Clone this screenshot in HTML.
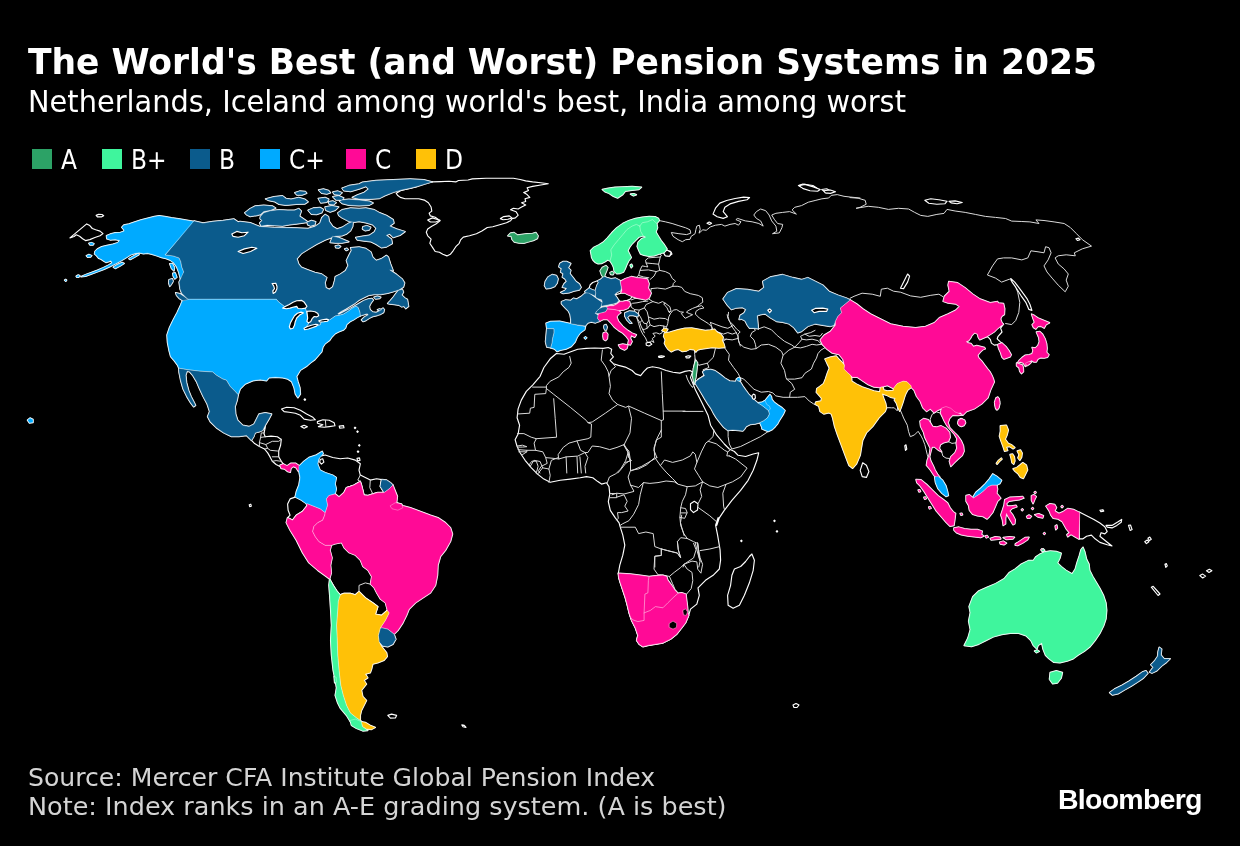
<!DOCTYPE html>
<html><head><meta charset="utf-8"><title>The World's Best (and Worst) Pension Systems in 2025</title>
<style>
html,body{margin:0;padding:0;background:#000;}
body{width:1240px;height:846px;position:relative;overflow:hidden;font-family:"DejaVu Sans","Liberation Sans",sans-serif;color:#fff;}
.title{position:absolute;left:28px;top:40px;font-size:35.6px;font-weight:bold;line-height:44px;white-space:nowrap;transform-origin:0 0;transform:scaleX(0.97);}
.sub{position:absolute;left:28px;top:83.5px;font-size:29.5px;line-height:36px;white-space:nowrap;transform-origin:0 0;transform:scaleX(0.978);}
.legend{position:absolute;left:0;top:140px;height:36px;font-size:24px;line-height:36px;white-space:nowrap;}
.legend i{position:absolute;top:9px;width:20px;height:20px;display:block;}
.legend span{position:absolute;top:1.5px;margin-left:-1px;font-size:26.7px;transform-origin:0 0;transform:scaleX(0.875);}
.src{position:absolute;left:28px;font-size:25.2px;transform-origin:0 0;transform:scaleX(1.012);color:#d4d4d4;white-space:nowrap;line-height:30px;}
.logo{position:absolute;left:1058px;top:784px;font-family:"Liberation Sans","DejaVu Sans",sans-serif;font-weight:bold;font-size:28.5px;letter-spacing:-0.75px;color:#fff;line-height:30px;}
svg{position:absolute;left:0;top:0;}
</style></head><body>
<div class="title">The World's Best (and Worst) Pension Systems in 2025</div>
<div class="sub">Netherlands, Iceland among world's best, India among worst</div>
<div class="legend">
<i style="left:32px;background:#2ca266"></i><span style="left:62px">A</span>
<i style="left:102px;background:#3ff59d"></i><span style="left:132px">B+</span>
<i style="left:190px;background:#0b5b8c"></i><span style="left:220px">B</span>
<i style="left:260px;background:#00aaff"></i><span style="left:290px">C+</span>
<i style="left:346px;background:#ff0a96"></i><span style="left:376px">C</span>
<i style="left:416px;background:#ffc107"></i><span style="left:446px">D</span>
</div>
<div class="src" style="top:763px;transform:scaleX(0.998)">Source: Mercer CFA Institute Global Pension Index</div>
<div class="src" style="top:792px">Note: Index ranks in an A-E grading system. (A is best)</div>
<div class="logo">Bloomberg</div>
<svg width="1240" height="846" viewBox="0 0 1240 846">
<g stroke="#fff" stroke-width="1.15" stroke-linejoin="round" stroke-linecap="round" fill="none">
<path fill="#000000" d="M556.4,353.5L564,354.3L570.8,351.8L577.7,349.2L586.2,348.4L594.7,348L603.2,348.4L608.3,347.5L611.7,349.2L610.8,353.5L613.4,356.9L610,360.3L613.4,363.7L618.5,365.4L625.3,367.1L632.1,370.5L635.5,373.9L640.6,375.6L644,371.4L647.4,368L652.5,366.8L659.3,368L666.1,370.5L673,372.2L679.8,373.1L684.9,371.4L690,370.5L692.5,371.9L690.5,377.6L693,383.8L695.5,390.1L701.8,402.6L708,415.2L710.6,425.2L716.8,435.2L724.3,444L729.3,449L734.4,451.5L738.1,455.3L745.6,456.5L753.2,454L758.7,452.8L756.9,460.3L753.2,470.3L748.1,480.3L740.6,490.4L731.9,500.4L724.3,510.4L719.3,517.9L716.8,525.4L718.1,517.6L715.6,525.1L717.6,535.2L719.3,545.2L720.1,550.2L720.6,560.2L719.3,569L713.1,575.3L705.5,580.3L698,587.8L699.3,595.3L696.8,604.1L690.5,609.1L688.7,615.4L685.5,622.9L681.7,627.9L676.7,634.2L670.5,639.2L662.9,642.9L655.4,644.2L647.9,645.4L642.9,646.7L639.1,644.2L636.6,640.4L637.9,635.4L635.4,627.9L631.6,620.4L629.1,612.9L627.3,605.3L625.3,597.8L622.8,590.3L620.3,582.8L618.8,577.8L618.3,573.3L619.8,565.2L622.8,555.2L624.8,545.2L622.8,535.2L619.8,525.6L619.1,522.9L615.3,517.9L610.3,510.4L608.3,501.6L609.8,494.1L609,486.6L606.5,482.8L601.5,484.1L597.8,481.6L592.8,477.8L586.5,476.6L580.2,477.8L570.2,479.1L560.2,480.3L550.2,482.3L543.9,479.1L537.6,474.1L531.4,467.8L525.1,460.3L520.1,452.8L517.1,446.5L515.1,439.7L518.1,434L519.6,425.2L517.1,417.7L518.1,408.9L521.3,400.1L526.3,391.4L532.6,385.1L540.1,376.3L543.9,367.5L550.2,358.8Z"/>
<path stroke="#dadada" stroke-width="1" d="M897.7,406.9L897.2,410.8L894.3,407.8L891.4,407.8L889,407.7L886.6,407.8"/>
<path stroke="#dadada" stroke-width="1" d="M637,276.7L638.7,275.5L639.9,270.4L642.1,265.9L645.5,266.5L647.8,267L646.1,263L645.5,260.2L648.4,257.9L654,257.4L660.3,257L661.4,255.1L659.1,253.4"/>
<path stroke="#dadada" stroke-width="1" d="M646.1,263L652.9,263.6L658.6,264.2M660.3,257L658.6,264.2L659.7,270.4L656.3,271.6M640.4,270.4L648.4,269.9L656.3,271.6L654,276.1L650.1,279.5M638.7,275.5L643.8,277L648.9,277.8"/>
<path stroke="#dadada" stroke-width="1" d="M659.7,270.4L665.4,271.6L669.9,273.8L672.2,278.4L675.6,281.2L673.3,283.5L672.8,286.3L665.4,289.1L657.4,288L651.2,288.6M672.8,286.3L677.9,286.3L681.8,287.4L684.7,291.4L690.3,293.7L698.3,295.4L702.3,297.7L702.8,302.2L699.4,304.5L697.1,306.7"/>
<path stroke="#dadada" stroke-width="1" d="M697.1,306.7L701.7,305.6L704,307.9L699.4,309L696,311.3L695.4,314.1L699.4,318.1L704,320.9L708.5,323.7L711.9,327.1L713,329.4"/>
<path stroke="#dadada" stroke-width="1" d="M697.1,306.7L692.6,308.4L688.1,310.7L686.4,312.2L689.2,313.5L692.6,314.7L689.2,316.4L685.2,318.3L683,315.8L681.3,313.5L683.5,312.2L680.1,311.8L676.7,309.6L673.3,310.1L670.5,313.5L668.8,316.9L668.2,320.3L667.7,323.7L666.5,327.1"/>
<path stroke="#dadada" stroke-width="1" d="M651.2,288.6L650.6,293.1L650.1,295.4L648.4,298.8L652.9,301.6L658.6,303.3L662.5,301.6L665.4,303.3L669.9,306.7L671.1,311.3L668.8,311.8L670.5,313.5M665.4,303.3L663.7,303.9L667.1,307.9L668.8,311.8"/>
<path stroke="#dadada" stroke-width="1" d="M652.9,301.6L646.1,304.5L644.4,307.9L647.2,311.8L648.4,316.9L654,319.2L659.7,318.1L665.4,318.6L668.2,320.3"/>
<path stroke="#dadada" stroke-width="1" d="M631.3,299.9L637,297.7L642.7,297.1L648.4,298.8M647.8,301.1L642.7,301.6L637,302.8L632.5,303.3L630.8,304.5L631.3,307.3L634.7,309.6L639.3,310.1L644.4,307.9"/>
<path stroke="#dadada" stroke-width="1" d="M639.3,310.1L638.2,313.5L640.4,316.9L642.1,320.3L643.8,323.2L646.7,323.7L648.9,320.3L648.4,316.9M648.9,320.3L650.1,324.9L654,326.6L659.7,325.4L663.7,326L666.5,327.1"/>
<path stroke="#dadada" stroke-width="1" d="M634.7,309.6L634.2,313.5L637,318.1L639.9,322.6L642.1,320.3M639.9,322.6L641,326L642.7,329.4L644.4,332.8M646.7,323.7L647.2,328.3L644.4,329.4L642.7,329.4M647.2,328.3L650.1,324.9"/>
<path stroke="#dadada" stroke-width="1" d="M637,318.1L638.7,323.7L640.4,329.4L642.7,334L645.5,337.9L647.2,341.9L649.5,344.2L651.2,340.8L654,342.5L652.3,338.5L655.2,336.2L652.9,333.4L656.3,332.8L659.7,334L662,332.8L663.7,329.4L663.7,326"/>
<path fill="#000000" d="M646.1,343L649.5,342.1L651.8,344.2L648.9,346L646.3,345.3Z"/>
<path fill="#000000" d="M663.7,252.8L666.5,250.6L670.5,251.4L672,254L668.8,256.2L665.4,255.7Z"/>
<path stroke="#dadada" stroke-width="1" d="M727.2,314.7L727.8,318.1L730.1,322.6L732.3,327.1L735.7,331.7L738,336.2L738.6,340.8L740.3,346"/>
<path fill="#000000" d="M396.2,193.3L401,190.5L409.2,188.5L417.4,186.4L418.8,184.3L425.6,183L432.5,181.9L440.7,181.6L449,181.3L455.8,181.9L458.5,180.5L468.1,180L472.3,178.9L486,178.3L499.7,178.2L513.4,178.3L520.2,179.5L525.7,180.9L532.6,181.9L540.8,182.7L548.3,183.7L540.8,185L532.6,186.4L527.1,187.8L528.5,190.5L523.7,192.6L527.1,194.6L529.8,197.4L525,198.7L525.7,201.5L521.6,202.8L525.7,204.9L521.6,207L518.2,209L513.4,208.3L510.6,209.7L516.1,211.8L518.2,215.2L515.4,217.9L512,218.6L510.6,220.7L506.5,222.7L499.7,224.8L492.8,226.8L487.3,227.5L481.9,231L476.4,233.7L469.5,235.8L463.3,237.1L460.6,239.9L459.2,243.3L455.8,246.7L453.1,250.8L450.3,254.3L446.9,255.9L442.8,254.3L439.4,252.2L435.2,251.5L432.5,247.4L429.8,243.3L431.1,239.2L427.7,235.8L426.3,232.3L427.7,228.9L431.8,226.2L435.9,224.1L440,220.7L435.2,217.2L430.4,215.9L429.1,213.1L431.8,211.1L431.1,207L428.4,202.8L424.3,200.1L418.8,198.7L411.9,198.7L405.1,198.7L400.3,197.4L397.5,195.3Z"/>
<path fill="#000000" d="M427.7,220L432.5,217.9L436.6,219.3L440,220.3L435.9,222L430.4,222Z"/>
<path fill="#000000" d="M500.4,218.6L503.8,216.6L509.3,215.9L512,217.9L507.9,219.3L503.1,219.7Z"/>
<path stroke="#dadada" stroke-width="1" d="M728.5,312.3L728.1,316.6L729.3,321L733.6,325.4L736.5,329L740.2,331.9L738,334.1L738,338.4L739.4,343.5L743.8,347.2L751.1,349.3L756.2,348.6L755.4,344.3L754,339.9L750.3,336.3L751.8,332.6L755.4,330.4L754,328.3"/>
<path stroke="#dadada" stroke-width="1" d="M710.4,322.4L716.2,324.6L722,326.8L727.8,328.3L733.6,325.4M711.8,330.4L717.6,331.9L723.4,334.1L727.8,332.6L732.2,334.1L736.5,332.6M717.6,331.9L719.1,336.3L723.4,339.2L726.3,339.2M724.2,347.2L722.7,341.3L726.3,339.2L732.2,339.9L738,338.4"/>
<path stroke="#dadada" stroke-width="1" d="M710.4,322.4L711.8,326.8L711.8,330.4L714,331.9"/>
<path stroke="#dadada" stroke-width="1" d="M694.4,349.3L694.7,354.4L695.1,358.8L694.4,363.2L693.2,369"/>
<path stroke="#dadada" stroke-width="1" d="M715.4,348.6L713.3,357.3L707.4,363.2L698.7,365.3L696.5,362.4L695.1,358.8M696.5,362.4L696.1,367.5M707.4,363.2L708.9,367.5L703.1,369.7L704.5,374.8L700.2,377.7L697.3,379.4"/>
<path stroke="#dadada" stroke-width="1" d="M724.2,347.2L729.3,354.4L728.5,360.2L733.6,367.5L738,373.3L740.2,377.7M738,377.7L740.2,377.7L741.2,380.6L739.4,381.8"/>
<path stroke="#dadada" stroke-width="1" d="M740.2,377.7L743.8,379.1L748.2,383.5L754,389.3L761.2,392.2L768.5,391.5L772.9,393L775.8,395.9L783.1,397.3L789.6,397.3L797.6,397.3L804.9,396.6L809.2,401L813.6,403.9L816.5,405.3"/>
<path stroke="#dadada" stroke-width="1" d="M756.2,348.6L761.2,345L768.5,344.3L775.8,347.2L781.6,351.5L783.1,355.2L780.9,363.2L784.5,370.4L786,377.7L786.7,379.1L791.8,383.5L794.7,389.3L790.3,392.2L789.6,397.3"/>
<path stroke="#dadada" stroke-width="1" d="M783.1,355.2L788.9,350.1L794.7,347.2L800.5,347.9L806.3,346.4L812.1,344.3L816.5,345L821.6,344.3L825.9,347.2L820.9,350.1L817.9,353.7L816.5,358.1L813.6,363.2L811.4,369L804.9,373.3L802,377.7L794.7,379.1L786.7,379.1"/>
<path stroke="#dadada" stroke-width="1" d="M758.3,329L764.1,326.8L771.4,329.7L777.2,335.5L784.5,341.3L791.8,345L794.7,347.2M758.3,329L757.2,322.4L756.9,315.2"/>
<path stroke="#dadada" stroke-width="1" d="M794.7,347.2L799,342.8L802,339.2L800.5,336.3L804.9,334.1L810.7,332.6L815,330.4M802,339.2L806.3,339.9L812.1,339.2L817.9,340.6L821.6,344.3M804.9,334.1L809.2,336.3L815,335.5L820.1,336.3L822.3,333.4"/>
<path stroke="#dadada" stroke-width="1" d="M728.1,430.7L728.1,436.5L729.3,444L731.9,449L740.6,446.5L750.7,441.5L760.7,436.5L768.2,431.5"/>
<path stroke="#dadada" stroke-width="1" d="M692.5,371.9L695.9,373.9L694.2,384.1L692.5,387.5L690,384.1L687.4,379L686.2,375.3"/>
<path stroke="#dadada" stroke-width="1" d="M683,411.4L703,411.4"/>
<path stroke="#dadada" stroke-width="1" d="M900.3,410.2L902.3,414.7L903.6,418L907.3,425.2L908.5,431.3L910.3,436.7L914.5,434.9L918.1,431.3L921.2,436.1L923,439.8L924.8,444.6L926,449.4L927.2,454.3L928.4,457.9"/>
<path stroke="#dadada" stroke-width="1" d="M941.7,451.9L942.9,456.1L946,458.1L949.4,458.5M948.4,441.6L952,443.4L956.2,442.8M930.8,423.4L930.2,419.2L932.1,414.4L936.3,411.9L940.5,413.1"/>
<path fill="#000000" d="M798.4,185.5L802.9,184L812.9,185.5L816.7,188L810.4,189L802.9,188ZM821.7,189.5L826.7,188.8L831.7,191.5L826.7,193Z"/>
<path fill="#000000" d="M904.8,445.8L906,444.8L906.8,449L905.5,450.3Z"/>
<path fill="#000000" d="M249.2,504.7L250.8,504.2L251.3,506.2L249.7,506.7Z"/>
<path fill="#000000" d="M793,705L796,703.5L799,705L797,707.5L794,707.5Z"/>
<path stroke="#dadada" stroke-width="1" d="M659.4,220.6L665.3,221.8L672.1,223.5L678.9,225.7L685.7,227.8L690,229.8L690.8,233.2L686.6,234.6L678.9,233.7L671.3,232.5L673,236.3L678.1,239.7L682.3,241.7L685.7,239.7L690,239.3L691.2,236.3L695.1,233.7L695.9,229.5L696.8,226.1L699.4,225.2L700.2,229.5L699,233.2L702.8,229.8L706.2,230.3L710.4,226.9L715.5,225.2L721.5,224.4L724.9,226.1L730,224.4L735.1,223.5L738.5,225.2L741,221.8L735.9,219.6L737.6,218.4L745.3,220.9L752.1,221.8L758.9,223.5L763.2,226.1L760.6,220.9L756.4,218.4L753.8,215L756.4,211.6L760.6,209L765.7,210.7L769.1,215L771.7,220.9L775.9,226.1L776.8,231.2L772.5,233.7L779.3,232.9L781.9,227.8L782.7,224.4L777.6,223.5L774.2,219.2L771.7,215L775.9,213.3L782.7,212.4L789.6,211.6L796.4,214.1L792.1,209.9L794.7,207.3L801.5,205.6L808.3,202.2L815.1,200.5L821.9,198.8L828.7,198L831.2,195.4L837.2,194.6L844,196.3L850.8,197.1L860,198"/>
<path fill="#000000" d="M707,223.2L709.2,222L711.6,223.2L709.6,224.5Z"/>
<path fill="#000000" d="M713,214.1L715.5,208.2L719.8,203.1L726.6,200.5L735.1,198.5L743.6,197.1L749.6,197.5L747,199.7L738.5,201.4L730,203.9L724.9,207.3L723.2,211.6L727.4,216.7L723.2,218.4L717.2,216.7Z"/>
<path fill="#000000" d="M798.9,185.6L804.9,184.4L813.4,186.9L820.2,189.5L817.6,191.2L810,190.7L803.2,188.6Z"/>
<path fill="#000000" d="M823.6,190.7L830.4,190L835.5,191.7L830.4,193.4L825.3,192.9Z"/>
<path fill="#000000" d="M663.3,252.4L667,249.9L671.3,252.4L669.6,256.3L665.3,255.8Z"/>
<path stroke="#dadada" stroke-width="1" d="M850,197.6L858.1,198.2L865.2,200.3L866.2,204.3L860.1,207.3L856.1,208.3L868.2,206.3L878.3,207.3L888.4,209.4L898.5,208.3L908.6,209L914.7,212.4L920.7,215.4L927.8,216.4L936.9,214.4L944,213.4L947,209.4L955.1,211L965.2,212.4L975.3,214.4L985.4,216.4L995.5,217.4L1005.6,218.5L1011.7,221.1L1021.8,221.5L1029.9,221.9L1039,223.5L1035.9,219.9L1044,220.5L1054.1,221.9L1064.2,223.5L1070.3,227.5L1076.4,233.6L1082.4,239.7L1091.5,246.1L1082.4,248.8L1074.3,252.8L1075.3,255.8L1066.2,254.8L1058.2,255.8L1055.1,257.9L1058.2,263.9L1064.2,269L1068.3,274L1066.2,280.1L1068.3,286.2L1065.2,291.8L1058.2,285.1L1052.1,278.1L1047,272L1044,265.9L1048.1,259.9L1051.1,252.8L1049.1,247.8L1045.6,246.7L1044,252.8L1038,251.8L1030.9,250.8L1027.8,257.9L1021.8,259.9L1011.7,257.9L1003.6,257.9L997.5,258.9L992.5,265.9L987.4,275L995.5,278.1L1001.6,282.1L1009.7,279.1L1014.7,284.1L1017.7,292.2L1019.8,302.3L1018.8,312.4L1015.7,320.5L1011.7,324.6L1005.6,323.5"/>
<path fill="#000000" d="M1010.7,278.5L1014.7,282.1L1020.8,290.2L1026.8,298.3L1029.9,304.3L1031.9,310.4L1028.9,309.4L1025.8,302.3L1020.8,295.3L1015.7,287.2L1012.1,282.1Z"/>
<path fill="#000000" d="M924.8,200.3L930.8,198.8L938.9,199.7L947,201.3L945,203.7L936.9,204.3L928.8,203.3Z"/>
<path fill="#000000" d="M949,201.3L955.1,200.9L962.2,202.5L957.1,203.7L951.1,202.9Z"/>
<path fill="#000000" d="M1075.9,238.7L1078.4,238.1L1080,239.7L1077.4,240.5Z"/>
<path fill="#000000" d="M900.5,288.2L903.6,282.1L907.6,274L909.6,276.1L907.6,282.1L903.6,288.6Z"/>
<path stroke="#dadada" stroke-width="1" d="M850,298.3L854,296.3L862.1,293.2L872.2,294.2L880.3,296.3L881.3,289.2L887.4,288.2L893.5,291.2L900.5,292.2L910.6,295.9L920.7,297.3L930.8,295.3L938.9,294.2L943,296.7"/>
<path stroke="#dadada" stroke-width="1" d="M569.7,356.5L571.2,363.1L569,367.4L563.2,371.8L558.8,376.9L550.1,381.3L546.4,385.6L546.4,388.5L545.7,393.6L534.8,394.3L534.1,407.4L530.4,408.2L529.7,413.2L517.4,414M532.6,387.1L546.4,387.1"/>
<path stroke="#dadada" stroke-width="1" d="M546.4,388.5L553.7,394.3L570.4,407.4L586.4,420.5L587.9,422.7L592.2,422L605.3,413.2L617.7,404.5L612.6,400.2L609,393.6L610.4,386.3L609,376.2L611.1,370.4L615.5,366.7L613.3,363.8"/>
<path stroke="#dadada" stroke-width="1" d="M602.4,350L601.2,360.2L605.3,366L608.2,371.8L609,376.2"/>
<path stroke="#dadada" stroke-width="1" d="M553.7,398.7L555.2,418.3L556.6,437.2L536.3,438.7L534.1,443.1L535.5,450.3L542.8,451.8L545.7,457.6L553,458.3L558.8,459"/>
<path stroke="#dadada" stroke-width="1" d="M661.3,371.8L662.3,393.6L663.2,411.1L663.5,419.8L661.3,420.5L644.6,413.2L628.6,406L625.7,407.4L617.7,404.5M663.2,411.1L685,411.1"/>
<path stroke="#dadada" stroke-width="1" d="M628.6,406.7L631.5,418.3L630,432.9L624.2,444.5M661.3,420.5L661.3,437.2L656.2,440.1L654,450.3L656.9,457.6"/>
<path stroke="#dadada" stroke-width="1" d="M587.9,422.7L591.5,424.1L590.8,437.2L587.9,438.7L577,440.9L569,443.1L563.2,447.4L558.1,454.7L558.8,459L566.1,456.9L577.7,456.1L585,452.5L587.9,452.5L592.2,446L599.5,446.7L609.7,449.6L617,447.4L624.2,444.5M577,440.9L580.6,450.3L585,452.5"/>
<path stroke="#dadada" stroke-width="1" d="M517.4,433.6L523.9,433.6L531.2,437.2L536.3,438.7M517.4,446L522.4,445.2L526.8,446.7L522.4,447.1L517.4,447.1M518.1,449.6L526.8,450.3L535.5,450.3M518.8,451.8L526.8,451.8L526.8,450.3"/>
<path stroke="#dadada" stroke-width="1" d="M522.4,454.7L526.8,451.8M545.7,457.6L547.2,463.4L541.3,466.3L538.4,470.7L539.9,473M529,464.9L531.9,461.2L536.3,461.2L538.1,466.3L536.3,473"/>
<path stroke="#dadada" stroke-width="1" d="M566.1,456.9L566.8,473M577,456.9L577.7,473M579.9,456.9L581.3,473M585,452.5L587.9,457.6L585,466.3L585.7,473"/>
<path stroke="#dadada" stroke-width="1" d="M624.2,444.5L627.9,451.8L630,460.5L625.7,463.4L619.9,470.7L617.7,473M627.9,451.8L628.6,457.6L631.5,460.5M631.5,470.7L641.7,466.3L651.8,460.5L656.9,457.6"/>
<path stroke="#dadada" stroke-width="1" d="M624,445.4L628.1,452.7L625.6,460.8L620.8,468.9L615.9,473.7L609.4,477L607,483.4M624,445.4L628.9,451.1L630.5,460.8L625.6,462.4M630.5,460.8L630.5,470.5L628.1,477L630.5,485.1L633.7,490.7"/>
<path stroke="#dadada" stroke-width="1" d="M630.5,470.5L638.6,468.9L646.7,464.8L654.8,457.5L654,447.8L657.2,438.1L661.3,430M654.8,457.5L660.4,465.6L666.1,472.1L672.6,478.6L678.3,484.3"/>
<path stroke="#dadada" stroke-width="1" d="M630.5,485.1L638.6,487.5L643.4,482.6L649.9,483.4L658,482.6L666.1,481L674.2,481.8L678.3,484.3L687.2,486.7L695.3,485.9L702.6,481.8"/>
<path stroke="#dadada" stroke-width="1" d="M660.4,465.6L664.5,460L672.6,462.4L682.3,460L690.4,455.9L692.8,451.9L695.3,454.3L696.9,462.4L694.5,468.9L698.5,475.3L702.6,481.8"/>
<path stroke="#dadada" stroke-width="1" d="M696.9,462.4L701.7,451.1L705.8,443L708.2,441.3L713.1,436.5L713.9,430M708.2,441.3L716.3,443.8L724.4,450.2L727.7,451.9L726.8,455.9L729.3,455.9L730.9,456.7M727.7,451.9L730.1,450.2"/>
<path stroke="#dadada" stroke-width="1" d="M729.3,455.9L735.7,459.1L747.1,468.1L740.6,477L732.5,481.8L726,484.3L717.9,487.5L709.8,485.9L702.6,481.8M726,484.3L722.8,493.2L723.6,506.1L724.4,509.4"/>
<path stroke="#dadada" stroke-width="1" d="M702.6,481.8L700.1,489.9L701.7,496.4L698.5,502.9M698.5,507.7L709.8,515.8L716.3,521.5M687.2,486.7L685.5,494.8L682.3,501.3L680.7,507.7L679.9,517.4L680.7,525.5L683.9,533.6L687.2,538.5"/>
<path stroke="#dadada" stroke-width="1" d="M680.7,507.7L685.5,508.5L687.2,512.6L684.7,518.3L679.9,517.4M680.7,512.9L686.8,512.9"/>
<path stroke="#dadada" stroke-width="1" d="M687.2,538.5L693.6,541.7L697.7,543.4L698.5,553.1L700.1,561.2L698.8,567M700.1,550.6L709.8,549L719.6,546.6"/>
<path stroke="#dadada" stroke-width="1" d="M643.4,482.6L640.2,494.8L638.6,504.5L633.7,514.2L628.9,520.7L622.4,523.9L620,525.5M611.9,494.8L616.7,493.2L624,494L633.7,491.5"/>
<path stroke="#dadada" stroke-width="1" d="M610.2,493.5L616.7,493.5L616.7,497.7L610.2,497.7M616.7,497.2L624,494.8L627.2,501.3L624.8,506.1L628.1,511L621.6,512.6L617.5,512.6L618.3,518.3L616.7,519.9"/>
<path stroke="#dadada" stroke-width="1" d="M620.8,527.2L635.3,527.2L638.6,533.6L645.9,532L653.2,533.6L654.8,546.6L661.3,549L661.3,555.5L654.8,556.3L654.8,567"/>
<path stroke="#dadada" stroke-width="1" d="M661.3,549L667.7,550.6L677.4,553.1L680.7,557.9L678.3,549.8L677.4,541.7L680.7,537.7L687.2,538.5M693.6,543.4L696.1,549.8L693.6,557.9L683.9,564.4L683.1,567"/>
<path stroke="#dadada" stroke-width="1" d="M661.3,548.9L661.3,555.4L654.8,556.2L654,569.1L658,574.8L661.3,574.8L669.4,576.4L674.2,572.4L680.7,567.5L683.9,564.3"/>
<path stroke="#dadada" stroke-width="1" d="M669.4,576.4L672.6,583.7L675,589.4L678.3,593.4M686.4,594.3L691.2,588.6L692.8,580.5L692,572.4L687.2,569.1L683.9,564.3L692,561.1L696.9,561.9L697.7,569.1L700.9,573.2L702.6,564.3L700.1,557.8L698.5,549.7L697.7,543.2"/>
<path stroke="#dadada" stroke-width="1" d="M661.3,548.9L667.7,550.7L677.4,553L680.7,557.8L678.3,549.7L677.4,541.6M695.3,543.2L697.7,553L700.1,561.1"/>
<path stroke="#dadada" stroke-width="1" d="M537.6,474.1L542.6,467.8L548.9,469L550.2,475.3L548.9,482.3M548.9,469L551.4,460.3L557.7,457.8M530.1,466.5L533.9,460.3L540.1,461.5L542.6,467.8"/>
<path fill="#000" stroke-width="1.5" d="M618.3,573.3L630.4,574L640.4,575.3L649.1,576.5L655.4,575.8L662.9,575.3L666.7,576.5L667.9,580.3L671.7,585.3L675,590.3L678,593.3L681.7,592.8L686,594.1L686.7,600.3L687.5,606.6L688,612.9L688.7,615.4L685.5,622.9L681.7,627.9L676.7,634.2L670.5,639.2L662.9,642.9L655.4,644.2L647.9,645.4L642.9,646.7L639.1,644.2L636.6,640.4L637.9,635.4L635.4,627.9L631.6,620.4L629.1,612.9L627.3,605.3L625.3,597.8L622.8,590.3L620.3,582.8L618.8,577.8L618.3,573.3Z"/>
<path fill="#000000" d="M751.9,554L754.4,560.2L753.2,570.3L749.4,582.8L744.4,595.3L739.4,605.3L733.1,608.3L728.1,605.3L727.6,595.3L730.6,585.3L731.9,575.3L734.4,569L740.6,566.5L745.6,561.5L749.4,556.5Z"/>
<path fill="#000000" d="M773.7,520.9L774.5,520.1L775.2,520.9L774.5,521.6Z"/>
<path fill="#000000" d="M776.2,531.4L777,530.7L777.7,531.4L777,532.2Z"/>
<path fill="#000000" d="M740.6,540.9L741.4,540.2L742.1,540.9L741.4,541.7Z"/>
<path fill="#000" stroke-width="1.5" d="M723.1,298.9L727.6,292.6L736.4,288.8L747.6,289.6L758.9,291.4L763.9,287.6L762.7,281.3L770.2,277.1L782.7,274.6L792.8,277.6L801.5,279.6L807.8,277.6L815.3,281.3L822.8,285.1L829.1,291.4L837.9,295.1L846.6,298.1L850.4,300.1L845.4,303.9L840.4,308.1L841.6,312.7L837.9,316.4L835.4,321.4L834.1,325.2L830.4,326.4L822.8,325.2L815.3,323.9L807.8,326.4L801.5,331.5L797.8,332.7L794,327.7L789,323.9L782.7,322.2L776.5,321.4L770.2,317.7L765.2,313.9L760.2,314.7L757.2,315.7L757.7,321.4L758.4,328.7L753.9,328.2L749.6,328.2L747.4,325.4L745.1,320.9L741.6,319.2L739.1,319.4L740.1,315.4L744.1,312.9L745.9,309.4L742.4,307.6L736.6,307.9L731.4,309.6L727.6,305.6Z"/>
<path fill="#000" stroke-width="1.5" d="M850.4,300.1L856.7,303.9L862.9,308.9L870.5,313.9L880.5,318.9L890.5,323.9L903,326.4L915.6,327.7L925.6,326.4L934.4,322.7L939.4,317.7L948.1,313.9L955.7,310.2L959.4,306.4L955.7,303.9L948.1,303.1L943.1,301.4L944.4,296.4L949.4,291.4L948.1,285.1L948.8,281.5L957.6,282.8L965.1,287.8L972.6,294L980.1,299L990.2,302.8L997.7,301.6L998.1,302.9L1003.5,303.4L1004.7,308.7L1004.4,314.5L1002,316L1000.6,318.9L1002,322.8L1003.5,324.2L1000.6,326.2L997.2,329.1L994.3,332L990.4,334.4L986.5,336.8L983.1,338.3L979.7,339.7L978.3,337.3L977.3,333.9L974.4,332.9L972,335.4L970.5,338.3L968.6,340.7L966.2,341.7L968.1,343.1L971,343.6L973.4,346.5L976.8,345.5L980.7,346.5L984.6,347.5L985.3,348.9L982.6,349.9L980.2,352.3L977.8,355.2L978.8,358.1L981.7,361L984.6,364.9L987.5,368.8L989.9,371.7L991.8,375.1L993.3,378.5L994.3,382L990.5,390.2L988,397.7L981.7,403.9L974.2,408.9L966.7,411.5L962.9,415.2L960.4,412.7L957.4,414L950.4,409.7L944.1,407.7L937.9,410.2L934.1,412.7L930.4,408.9L926.6,411.5L922.8,407.7L920.3,401.4L916.6,396.4L914.1,390.2L911.3,387.5L910.8,385.6L906.9,381.7L903.1,381.2L897.2,383.6L893.4,388.5L891.4,387.5L887.5,385.6L883.7,386.5L881.2,387L879.8,387.5L874,387L868.2,384.6L862.3,380.7L857.5,377.3L852.6,377.3L850.7,375.4L846.8,372L843.9,369.1L844.4,365.2L843,359.4L839.1,354.5L832.3,353.1L827,349.2L822.6,344.8L820.2,340L824.1,335.2L830.4,331.5L835.4,325.2L835.4,321.4L837.9,316.4L841.6,312.7L840.4,308.1L845.4,303.9Z"/>
<path fill="#000" stroke-width="1.5" d="M958.4,420.2L961.2,418.5L964.2,420.7L963.4,424.7L960.4,426.2L958.2,424Z"/>
<path fill="#000" stroke-width="1.5" d="M996,398.2L998,397.2L999.5,401.4L998.5,407.7L996.5,409.7L995.3,405.2Z"/>
<path fill="#000" stroke-width="1.5" d="M825,358.9L830.8,357L836.2,356L839.1,359.4L842,362.3L844.4,365.2L843.9,369.1L846.8,372L850.7,375.4L851.7,378.8L851.7,381.2L856.5,384.1L862.3,387L868.2,388.9L874,390.9L879.8,391.9L880.3,388.5L881.2,387L883.2,387.5L883.7,389.9L887.5,390.9L893.4,390.4L893.4,388.5L897.2,383.6L903.1,381.2L906.9,381.7L910.8,385.6L911.3,387.5L907.9,389.9L906,393.3L904.5,397.2L903.1,402L901.1,407.8L899.7,411.2L897.7,406.9L896.3,403L894.3,400.1L895.3,398.2L890.4,397.2L886.6,395.2L882.2,393.8L883.7,398.2L885.6,403L886.6,407.8L885.2,411.5L879,417.7L872.7,426.5L866.4,432.8L862.7,440.3L861.4,447.8L860.2,455.3L856.4,464.1L852.7,468.3L848.9,465.3L845.1,455.3L841.4,445.3L837.6,435.3L834.6,426.5L832.6,417.7L831.4,414L828.8,412.7L823.8,414L820.1,411.5L818.8,406.4L815.1,403.9L815.8,402L821.1,401.1L821.6,398.2L816.3,392.3L816.8,388.5L819.7,386.5L823.6,383.6L825.5,378.8L827.4,373L829.4,368.1L827,363.3Z"/>
<path fill="#000000" d="M862.7,462.8L866.4,465.3L868.9,471.6L866.4,477.4L862.2,476.6L860.2,470.4Z"/>
<path fill="#000" stroke-width="1.5" d="M696.3,381L699.7,378.6L704.5,375.7L702.6,371.8L705.5,369.9L710.8,369.4L715.2,370.8L720,374.2L724.9,378.1L729.7,381L735.6,381.5L736.5,379.1L738,380.8L740.4,382L742.8,385.9L746.2,390.7L749.1,394.6L752,397.5L754.9,400.4L757.8,402.8L761.7,405.2L765.6,408.2L768.5,410.6L769.5,414L767.5,417.8L763.7,420.8L759.8,422.7L754.9,424.1L750.1,424.6L746.2,426.6L744.3,429.5L742.8,430.9L738.5,430.4L732.6,430L727.8,430.4L723.9,427.5L720,422.7L716.2,417.8L713.3,413L710.8,408.2L707.4,403.3L704.5,398.5L701.6,393.6L699.2,389.7L696.8,385.9L695.3,383.4Z"/>
<path fill="#000" stroke-width="1.5" d="M736.5,379.1L738.5,377.6L740.4,378.6L739.9,381L738,380.8Z"/>
<path fill="#000" stroke-width="1.5" d="M757.8,402.8L761.7,402.3L765.1,400.4L767.5,397.5L770,394.6L771.4,396.5L771.9,399.4L774.3,402.3L778.2,405.2L782.1,407.7L785,410.6L783.5,414L781.1,417.8L779.2,420.8L777.7,423.7L775.3,426.6L772.4,429.5L768.2,431.5L761.9,428.9L761.9,427.5L759.8,422.7L763.7,420.8L767.5,417.8L769.5,414L768.5,410.6L765.6,408.2L761.7,405.2L757.8,402.8Z"/>
<path fill="#000" stroke-width="1.5" d="M920,421L923.6,418.6L928.4,419.8L930.8,423.4L932.7,426.5L936.3,427.1L941.1,425.8L946,428.3L949.6,432.5L950.2,437.3L948.4,441.6L943.5,442.8L940.5,444.6L939.3,448.2L941.7,451.9L938.1,450L934.5,447L932.1,447L930.8,451.9L929.6,456.7L930.8,460.9L933.3,465.8L935.1,470L937.5,474.2L939.9,477.3L936.3,477.3L933.9,475.4L930.8,470.6L928.4,467.6L926.4,465.2L927.2,460.3L929,455.5L929.6,453.1L930.2,448.2L927.8,443.4L924.8,437.3L923.6,432.5L920.6,426.5Z"/>
<path fill="#000" stroke-width="1.5" d="M941.7,408.1L946,406.5L950.8,408.3L955,411.9L959.9,413.7L962.3,415L958.1,415.6L952.6,415.3L949.6,418.6L948.1,422.8L949.8,427.7L953.2,431.3L957.5,435.5L961.1,440.4L963.5,445.8L964.1,451.2L962.3,455.5L958.1,459.1L954.4,462.7L950.8,466.4L949.4,461.3L950.8,456.7L955,452.8L956.9,448.2L956.2,443.4L956.9,438.5L954.4,434.3L950.2,429.5L946.6,425.2L944.2,421L942.3,416.8L940.5,413.1Z"/>
<path fill="#000" stroke-width="1.5" d="M957.8,422.6L959.3,419.8L961.9,419L964.7,420.2L965.6,422.8L964.1,425.5L961.4,426.5L958.8,425.2Z"/>
<path fill="#000" stroke-width="1.5" d="M994.6,402.3L995.8,398.4L997.4,397.2L999.2,398.6L999.9,403.5L998.9,407.7L997.4,409.8L995.6,408.3Z"/>
<path fill="#000" stroke-width="1.5" d="M934.7,477.1L937.9,476.3L942.7,480.3L946,486L947.6,491.6L948.4,495.6L946,496.5L941.9,493.2L937.9,488.4L935.5,482.7Z"/>
<path fill="#000" stroke-width="1.5" d="M916.1,479.5L921,479.8L926.6,484.4L932.3,490L937.9,495.6L943.5,499.7L947.6,502.9L950,507.7L953.2,511.8L955.6,513.4L954.8,519.8L954,525.5L950,526.3L946,522.3L941.1,516.6L936.3,511L932.3,504.5L928.2,498.1L924.2,491.6L920.2,486L916.9,482.7Z"/>
<path fill="#000" stroke-width="1.5" d="M918.2,490L919.8,489.8L920.6,491.5L919,491.9Z"/>
<path fill="#000" stroke-width="1.5" d="M923.9,497.3L925.5,497.1L926.3,498.7L924.7,499.2Z"/>
<path fill="#000" stroke-width="1.5" d="M928.7,506.9L930.3,506.8L931.1,508.4L929.5,508.9Z"/>
<path fill="#000" stroke-width="1.5" d="M960.2,513.4L961.8,513.2L962.6,514.8L961,515.3Z"/>
<path fill="#000" stroke-width="1.5" d="M954,527.9L958.9,527.1L964.5,528.7L971,529.5L977.4,529.5L982.3,531.1L981.5,534.4L983.9,536L980.6,537.6L974.2,536.8L967.7,536L961.3,534.7L956.5,532.7L954,530.3Z"/>
<path fill="#000" stroke-width="1.5" d="M985.2,536L987.1,535.5L988.4,537.1L986.3,537.9ZM990.3,538.4L995.2,536.8L1000,537.3L1000.8,538.9L996,539.5L991.1,540ZM1003.2,537.6L1009.7,536.8L1014.5,537.3L1012.9,538.9L1006.5,539.5ZM999.7,542.1L1003.2,541.1L1006.5,543.2L1004,544.8L1000.3,544ZM1015.3,544L1020.2,540.8L1025,537.6L1029,537.3L1027.4,540L1022.6,543.2L1017.7,545.6L1015.3,545.3Z"/>
<path fill="#000" stroke-width="1.5" d="M973.4,496.5L975.8,492.4L980.6,488.4L985.5,483.5L989.5,478.7L992.7,473.9L996.8,476.3L1001.6,480.3L1000,483.5L996.8,485.2L991.9,485.2L987.9,486.8L983.9,490.8L979.8,494L975.8,496.5L973.4,498.1Z"/>
<path fill="#000" stroke-width="1.5" d="M966.1,495.6L969.4,494.8L973.4,498.1L975.8,496.5L979.8,494L983.9,490.8L987.9,486.8L991.9,485.2L996.8,485.2L997.6,489.2L996.8,493.2L1000.8,498.1L997.6,501.3L995.2,506.9L992.7,512.6L989.5,516.6L987.1,519L983.1,516.6L977.4,515.8L972.6,514.2L969.4,510.2L968.5,505.3L966.1,501.3Z"/>
<path fill="#000" stroke-width="1.5" d="M1004.8,499.7L1009.7,497.3L1016.1,496.9L1022.6,496.5L1023.9,498.1L1019.4,499.7L1013.7,500.5L1008.9,501.3L1006.5,503.7L1007.3,506.1L1011.3,506.1L1016.1,505.3L1016.9,506.9L1012.1,508.5L1009.7,511L1012.9,515L1015.3,519.8L1014.8,523.9L1012.9,524.7L1010.5,520.6L1008.1,516.6L1006.5,513.4L1005.6,518.2L1005.6,523.9L1003.2,525.5L1002.4,519.8L1000.8,515L1002.4,510.2L1004,505.3Z"/>
<path fill="#000" stroke-width="1.5" d="M1031.5,495.6L1033.9,494.8L1036.3,496.5L1034.7,499.7L1033.1,503.7L1031.5,500.5Z"/>
<path fill="#000" stroke-width="1.5" d="M1026.6,516.3L1029,515L1031.5,516.3L1029.8,518.2L1027.4,518.2ZM1034.7,514.7L1038.7,513.7L1043.5,515.8L1042.7,517.9L1037.9,516.9Z"/>
<path fill="#000" stroke-width="1.5" d="M1034.2,492.4L1035.2,491.5L1036.1,492.4L1035.2,493.4Z"/>
<path fill="#000" stroke-width="1.5" d="M1031.6,508.5L1032.6,507.6L1033.5,508.5L1032.6,509.5Z"/>
<path fill="#000" stroke-width="1.5" d="M1021.3,509.8L1022.3,508.9L1023.2,509.8L1022.3,510.8Z"/>
<path fill="#000" stroke-width="1.5" d="M1043.4,533.5L1044.4,532.6L1045.3,533.5L1044.4,534.5Z"/>
<path fill="#000" stroke-width="1.5" d="M1041,549.7L1041.9,548.7L1042.9,549.7L1041.9,550.6Z"/>
<path fill="#000" stroke-width="1.5" d="M1061.1,506.6L1062.1,505.6L1063.1,506.6L1062.1,507.6Z"/>
<path fill="#000" stroke-width="1.5" d="M1055.2,526L1056.8,525L1057.4,527.9L1055.8,529.8Z"/>
<path fill="#000" stroke-width="1.5" d="M1046,506.1L1050,503.7L1054.8,504.5L1056.5,507.7L1054.8,511L1058.9,513.4L1062.9,511.8L1067.7,508.5L1073.4,509.4L1079.8,512.6L1079,539.2L1075,536.8L1071,534.4L1067.7,536.8L1066.9,534.7L1069.4,532.7L1066.1,528.7L1062.1,521.5L1058.1,519L1053.2,518.2L1050.8,515L1049.2,511Z"/>
<path fill="#000" stroke-width="1.5" d="M1000.4,425.8L1006.4,425.2L1008.3,430.1L1007.1,434.9L1005.2,439.2L1008.3,443.4L1011.3,444.6L1014.9,447.6L1013.1,448.8L1009.5,446.4L1006.4,447L1007.7,450.6L1004.6,451.2L1002.8,445.8L1001,441L999.4,436.1L1000.4,431.3Z"/>
<path fill="#000" stroke-width="1.5" d="M1010.1,454.5L1012.5,454L1014.3,456.7L1014.9,460.9L1013.7,464.2L1011.9,462.7L1011.3,459.1ZM1017.3,450.9L1020.4,450L1022.2,453.1L1021.6,457.3L1019.8,460.3L1017.9,457.9L1019.1,454.9Z"/>
<path fill="#000" stroke-width="1.5" d="M1013.1,468.8L1016.7,467.6L1019.8,465.2L1022.8,462.7L1026.4,465.2L1027.6,470L1025.8,473.6L1023.4,478.5L1020.4,477.3L1017.9,473.6L1014.9,471.2Z"/>
<path fill="#000" stroke-width="1.5" d="M996.4,463.3L998.6,460.3L1001.4,458.1L1002,459.1L999.4,461.5L997.1,464.2Z"/>
<path fill="#000000" d="M1003.5,324.2L1000.6,328.1L1002,332L998.1,336.3L997.2,338.8L1000.1,341.7L1002,343.1L997.7,344.6L994.3,345.1L991.4,343.1L990.4,339.7L988.4,337.3L986.5,336.8L990.4,334.4L994.3,332L997.2,329.1L1000.6,326.2Z"/>
<path fill="#000" stroke-width="1.5" d="M1002,343.1L1005.9,346.5L1008.8,350.4L1011.2,354.7L1010.3,356.7L1006.9,358.1L1004,359.1L1002,357.2L1000.6,352.8L998.6,348.4L997.7,344.6Z"/>
<path fill="#000" stroke-width="1.5" d="M1031.6,314.1L1034.5,315.5L1037.9,317.9L1042.7,319.9L1049.5,322.8L1046.1,324.7L1044.2,328.1L1040.8,326.2L1037.9,326.6L1035.9,329.1L1033.5,327.6L1032.1,324.7L1034.5,322.3L1033,318.4Z"/>
<path fill="#000" stroke-width="1.5" d="M1036.4,332L1039.8,331.5L1042.7,334.4L1045.1,338.8L1046.6,343.6L1047.1,348.4L1046.6,352.3L1049,354.7L1047.6,357.2L1044.2,358.1L1040.8,357.7L1037.9,359.1L1036.4,362L1034,362L1031.6,360.6L1028.7,362L1026.2,364L1025.3,366.4L1023.3,363L1020.4,362L1017.5,363L1019,360.6L1021.9,357.7L1025.3,355.2L1029.1,354.7L1032.1,353.8L1033,350.4L1032.1,347.5L1035.4,348L1037.9,345.5L1039.3,341.7L1038.8,337.8L1037.4,334.4Z"/>
<path fill="#000" stroke-width="1.5" d="M1016.6,363L1019.5,364L1022.4,364.9L1023.3,367.8L1023.5,371.7L1021.4,373.6L1019.7,371.2L1019,367.8L1016.6,365.9Z"/>
<path fill="#000" stroke-width="1.5" d="M1025.8,363L1029.1,361.5L1031.6,362L1029.6,364L1026.7,365.9Z"/>
<path fill="#000" stroke-width="1.5" d="M591.3,255L590.4,250.7L593.8,247.3L598.9,244.8L603.2,242.2L607.4,238L611.7,232.9L616.8,227.8L622.8,223.5L628.7,220.6L635.5,218.4L642.3,217.2L649.1,216.4L655.1,216.7L658.5,218.4L659.3,220.6L656.8,223.5L657.6,227.8L655.9,232L658.5,236.3L661,240.5L664.4,244.8L667,249L664.4,252.4L659.3,254.1L654.2,255.8L649.1,256.3L644,255.3L640.6,254.1L638.9,250.7L637.2,246.5L638.1,242.2L641.5,238.8L645.7,237.1L643.2,235.9L638.9,237.1L635.5,240.5L632.1,243.9L629.6,247.3L627.9,250.7L629.6,254.1L631.3,257.5L628.7,260.9L627,264.3L625.3,268.6L623.6,272L620.2,273.4L616.8,273.7L614.2,271.2L613.4,266.9L611.7,263.5L610,260.9L607.4,260.1L604.9,261.8L601.5,263.5L598.1,263.8L595.5,262.6L593,260.1L591.6,257.5Z"/>
<path fill="#000" stroke-width="1.5" d="M602.3,189.5L608.3,188.3L615.1,187.3L621.9,186.9L632.1,186.6L641.5,187.3L638.9,189.5L632.1,190.3L625.3,191.2L622.8,194.6L617.6,198L613.4,196.3L609.1,193.4L604.9,191.7Z"/>
<path fill="#000" stroke-width="1.5" d="M630.4,194.1L633.8,193.7L636.4,194.7L633.5,195.8Z"/>
<path fill="#000" stroke-width="1.5" d="M630.1,265.2L631.6,264.2L632.6,266L631.3,267.8Z"/>
<path fill="#000" stroke-width="1.5" d="M507.9,235.8L510.6,233L514.1,232.6L517.5,235.1L521.6,234.4L527.1,233.7L532.6,233.4L536,232.6L538.1,235.8L537.4,238.5L533.3,240.5L528.5,241.9L523.7,243.3L518.9,243L514.1,241.9L512,239.2L511.3,236.4Z"/>
<path fill="#000" stroke-width="1.5" d="M559.8,263.5L563.2,261.5L566.6,261.5L570.8,263.5L568.3,267.8L570.8,270.3L570,273.7L573.4,278L575.9,281.4L579.4,283.9L581.1,287.3L579.4,289.9L574.2,291.1L569.1,292.8L563.2,293.6L560.6,292.4L564.9,290.4L566.6,288.2L562.3,287.3L564,283.9L566.6,281.4L564.9,278.8L562.3,277.1L563.2,273.7L560.6,272L561.5,268.6L558.9,266.9Z"/>
<path fill="#000" stroke-width="1.5" d="M545.3,281.4L547.9,277.1L552.1,274.6L556.4,275.4L558.1,278.8L557.2,283.1L554.7,286.5L550.4,288.2L546.2,288.7L544.5,285.6Z"/>
<path fill="#000" stroke-width="1.5" d="M546.1,323.2L550.6,321.5L559.7,321.3L568.7,323.2L577.7,325.2L585.5,326.5L584.8,329.7L580.3,332.9L577.1,337.4L575.2,341.9L571.3,346.5L566.1,349L560.3,350.3L557.1,351.6L554.5,349L550.6,347.7L551.9,343.2L552.6,338.1L553.9,332.9L553.9,328.8L546.8,328.4Z"/>
<path fill="#000" stroke-width="1.5" d="M546.8,328.4L553.9,328.8L553.9,332.9L552.6,338.1L551.9,343.2L550.6,347.7L546.8,347.1L545.5,341.9L546.1,335.5Z"/>
<path fill="#000" stroke-width="1.5" d="M584.2,337.8L585.5,336.8L586.8,337.8L585.5,339Z"/>
<path fill="#000" stroke-width="1.5" d="M561.5,301.6L565.7,299.9L570.8,300.4L573.4,298.2L576.8,299L581.1,296.5L584.5,293.6L587.9,291.9L590.4,293.9L593.8,296.5L597.2,299L599.8,300.7L602.3,302.4L601.5,305.8L599.8,308.4L597.2,310.6L595.5,313.5L598.1,315.2L597.7,318.6L599.8,321.2L595.5,322.9L591.3,322L587.9,322.9L585.3,325.9L577.7,324.9L570.8,323.7L570.8,319.5L570,314.4L568.3,310.9L565.7,308.4L563.2,305.8L561.5,303.8Z"/>
<path fill="#000" stroke-width="1.5" d="M604.2,325.2L606.1,324.5L607.2,327.1L606.4,330.1L604.8,330.1L603.8,327.5Z"/>
<path fill="#000" stroke-width="1.5" d="M620.5,281.2L625.3,278.6L631.3,276.6L637.2,277.8L642.3,278.3L647.4,279L649.1,283.7L648.3,288L651.2,293.1L649.1,298.2L645.7,299.9L641.5,299L637.2,298.2L632.1,296.5L627.9,294.8L624.5,293.1L621,293.1L621.9,290.5L621,285.4Z"/>
<path fill="#000000" d="M621,293.1L624.5,293.1L627.9,294.8L632.1,296.5L630.4,299L626.2,300.7L622.8,301.6L620.2,301.6L618.5,299.9L615.1,297.3L615.9,294.8Z"/>
<path fill="#000" stroke-width="1.5" d="M606.6,306.7L610,305.8L613.4,305.8L616.8,304.1L620.2,301.6L622.8,301.6L626.2,300.7L629.6,301.6L630.4,305L627.9,308.4L623.6,310.1L618.5,310.6L614.2,309.6L610,309.2L607.4,308.9Z"/>
<path fill="#000" stroke-width="1.5" d="M597.2,310.6L599.8,308.4L602.3,307.2L606.6,306.7L607.4,308.9L605.7,311.8L602.3,312.7L598.9,313.5L595.5,313.5Z"/>
<path fill="#000" stroke-width="1.5" d="M598.1,315.2L598.9,313.5L602.3,312.7L605.7,311.8L607.4,308.9L610,309.2L614.2,309.6L618.5,310.6L621,312.7L618.5,314.4L616.8,316.9L618.5,321.2L622.8,326.3L627.9,330.5L632.1,333.1L636.4,334.8L634.7,337.3L631.3,335.6L630.4,338.2L632.1,341.6L630.4,345L627.9,344.1L628.7,339.9L626.2,336.5L622.8,333.1L618.5,330.5L614.2,327.1L610.8,322.9L607.4,319.5L603.2,319.5L599.8,321.2L597.7,318.6Z"/>
<path fill="#000" stroke-width="1.5" d="M618.5,345L622.8,344.1L627.9,345L627,348.4L624.5,350.1L620.2,348Z"/>
<path fill="#000" stroke-width="1.5" d="M603.3,332.9L606.1,331.9L607.8,334.2L607.4,338.7L605.5,340.6L603.5,339.4L602.9,336.1Z"/>
<path fill="#000" stroke-width="1.5" d="M624.8,312.9L629.4,311L634.5,311.6L638.4,314.2L637.7,316.8L633.2,315.5L629.4,315.5L627.4,317.4L629.4,320.6L631.9,323.2L630,323.2L626.8,320L624.8,316.1Z"/>
<path fill="#000" stroke-width="1.5" d="M661.9,330.5L664.4,328.3L667.8,329.3L666.1,332.2Z"/>
<path fill="#000" stroke-width="1.5" d="M664.4,333.1L669.6,332.2L671.3,331.7L678.1,329.7L684.9,328.3L691.7,328L698.5,329.3L705.3,330.5L710.4,330L714.6,329.3L717.2,332.2L720.6,333.9L723.2,337.3L722.3,340.7L724,344.1L724.9,347.5L718.9,348L712.1,347.5L705.3,348.4L700.2,349.2L697.6,350.1L695.9,352.1L694.2,349.8L690,349.2L686.6,350.9L682.3,351.5L678.1,349.2L674.7,350.1L671.3,351.8L667.8,349.2L666.1,346.7L664.4,343.3L665.3,339.9L663.6,336.5Z"/>
<path fill="#000000" d="M685.7,356.6L688.3,355.7L690.8,356L689.1,357.8L686.2,357.8Z"/>
<path fill="#000000" d="M658.5,356.4L661.4,355.7L664.4,356.4L661.9,357.4L659,357.4Z"/>
<path fill="#000" stroke-width="1.5" d="M695.9,360.3L697.6,362.9L696.8,370.5L695.9,377.3L694.2,384.1L692.5,375.6L693.4,368.8L694.7,363.7Z"/>
<path fill="#000" stroke-width="1.5" d="M597.5,280.8L600.8,279.2L603,277L604.5,276.4L606.7,277.4L611.1,278.8L615.5,278.1L619.9,280.3L620.6,284.3L621.3,288L620.6,290.9L616.9,292.4L614.7,294.6L616.9,297.5L618.8,300.5L616.9,302.7L614,303.8L611.1,304.3L606.7,305.2L602.3,306L601.2,305.6L602.3,301.9L601.5,299.7L596.8,298.3L595.3,296.1L595.7,293.1L595.3,290.6L595.8,288.4L596.8,285.4L598.4,282.5Z"/>
<path fill="#000" stroke-width="1.5" d="M600.1,270.8L602.3,267.5L605.9,265.6L607.8,267.5L606.7,270.8L605.2,274.1L604.5,276.4L603,277L601.5,274.8Z"/>
<path fill="#000" stroke-width="1.5" d="M610,272.6L612.2,271.5L614,273L612.9,274.8L610.7,274.6Z"/>
<path fill="#000" stroke-width="1.5" d="M584.7,291.7L589.2,288L592,289.5L595.3,290.6L595.7,293.1L594.9,296.1L592,294.6L588.3,293.1L585.8,292.8Z"/>
<path fill="#000000" d="M589.2,288L590.2,284.7L592.7,282.5L597.5,280.8L598.4,282.5L596.8,285.4L595.8,288.4L595.3,290.6L593.5,290L592,289.5Z"/>
<path fill="#000" stroke-width="1.5" d="M27.5,420L30,418L33,419.5L33,422.5L29.5,423Z"/>
<path fill="#000" stroke-width="1.5" d="M194.4,221.4L188.5,220.5L180,219.1L171.5,217.8L164.7,216.6L159.2,215.7L154.4,216.6L147.6,218.3L140.8,220L134,222.2L128.9,223.9L123.8,225.1L121.8,227.3L123.8,229.7L124.2,231.1L120.4,232.4L115.3,232.8L110.2,234.1L106.5,235.8L106.8,238.7L110.2,239.9L115.3,239.6L119.6,240.4L117.9,242.6L112.8,244.3L106.8,245.5L101.7,246.7L97.4,248.9L94.9,251.5L94.5,254L96.6,255.7L98.6,258.3L100.8,259.1L103.4,260.8L105.9,262.5L108.5,261.7L111,260.8L111.9,263L108.5,265.1L103.4,267.6L97.4,270.2L91.5,272.4L85.5,274.6L80.9,276.7L85.5,276.3L91.5,274.1L97.4,271.9L104.2,269.2L110.2,266.5L116.2,263.4L121.3,260.7L125.9,257.9L130.6,254.9L134.9,253.5L139.1,252.8L143.4,253.7L147.6,253.2L151.9,254.2L157,255.9L161.6,257.6L166,258.6L169.8,260L173.5,262.5L176.6,266.8L178.6,271.9L180.3,278.4L182.5,276.2L183.7,271.9L181.7,266.8L180.8,261.7L179.1,257.9L173.2,255.9L165.5,254.9Z"/>
<path fill="#000" stroke-width="1.5" d="M88.9,243.3L91.5,242.6L94,243.6L93.2,245L90.1,245Z"/>
<path fill="#000" stroke-width="1.5" d="M86.4,255.7L88.9,254.5L91.8,255.6L90.6,257.1L87.7,257.3Z"/>
<path fill="#000" stroke-width="1.5" d="M113.3,267.1L117,264.8L122.1,262.5L124.2,263.4L120.4,265.9L115.3,268.5Z"/>
<path fill="#000" stroke-width="1.5" d="M128.9,258.6L133.2,256.1L138.3,253.5L139.1,254.5L134.4,257.4L130.3,259.6Z"/>
<path fill="#000" stroke-width="1.5" d="M76.2,276.2L78.2,275L79.9,275.8L78.7,277.3L76.7,277.3Z"/>
<path fill="#000" stroke-width="1.5" d="M64.6,280.1L65.6,279.4L66.6,280.2L65.8,281.3Z"/>
<path fill="#000" stroke-width="1.5" d="M169.8,263.7L172.3,263.4L174.5,267.6L174,271L171.5,268.5Z"/>
<path fill="#000" stroke-width="1.5" d="M172.8,273.3L175.2,272.8L176.9,277.3L174.9,279L173.2,276.2Z"/>
<path fill="#000000" d="M69.9,237.9L86.7,223.9L89.8,225.6L92.3,228.5L95.7,229.7L100,231.1L103,233.6L100,235.8L94.9,237.5L89.8,239.6L85.5,240.6L82.6,238.7L79.6,236.2L76.2,234.8L74.1,236.5Z"/>
<path fill="#000000" d="M96.1,215.4L98.6,214.4L102,214.5L103.7,215.7L101.3,216.9L97.4,216.9Z"/>
<path fill="#000" stroke-width="1.5" d="M194.2,220.9L203,223.1L213,221.4L223.1,220.6L233.8,218.9L238.1,221.9L240,221.4L250.2,222.7L259.6,226.5L274,227.5L291.1,227.8L308.1,228.5L314.9,226.5L320,223.1L321.7,217.9L325.1,214.5L328.5,216.6L329.3,221.4L332.8,226.5L337,229L342.1,227.3L348.9,223.1L353.2,221.4L352.7,226.5L350.6,230.7L346.4,234.1L342.1,235.8L335.3,236.3L331.9,237.5L325.1,240.1L316.6,244.3L308.1,249.4L301.3,253.7L297,258.8L298.7,263.9L301.3,267.3L308.1,269.9L314.9,272.4L321.7,274.1L326.8,277.5L325.1,282.6L325.9,287.7L329.3,289.4L332.8,286.9L334.5,280.9L335.3,276.7L340.4,274.1L345.5,270.7L348.1,265.6L346.4,260.5L348.9,255.4L351.5,250.3L350.6,247.7L359.1,246.9L365.9,248.6L371,252L372.7,257.1L376.1,260.5L381.3,258.8L386.4,255.4L388.4,257.1L390.6,263.9L393.2,270.7L389.8,270L396.6,274.5L402.3,279.1L404.6,283L403.5,287L398.9,289.9L392.1,292.1L387.6,293.3L380.8,294.4L374,294.4L368.3,295.5L363.7,297.8L359.2,300.1L354.7,303.5L350.1,306.3L345.6,309.1L341.1,311.4L337.7,313.7L338.8,314.5L344.5,311.4L350.1,308.6L355.2,305.7L359.8,302.9L363.7,300.6L368.3,298.9L371.7,298.4L373.4,300.1L371.1,302.9L369.4,306.3L370,309.7L372.8,312L376.2,312.5L379.6,310.8L383,308L384.4,309.7L383.6,312.5L380.8,314.2L377.4,315.4L372.8,316.5L369.4,318.2L366,320.5L363.2,321.6L361.5,319.9L364.3,317.1L368.3,314.8L367.1,313.7L363.7,314.8L360.3,315.9L359.8,312L358.1,307.4L355.8,306.3L351.8,308.6L347.9,311.4L343.3,314.2L338.8,315.4L335.4,315.9L329.7,319.9L321.5,321.1L320.2,324.9L305.2,328.4L308.9,322.9L307.7,315.4L305.2,307.8L284.5,306.6L278.2,301.6L276.4,299.3L189.2,299.3L187.6,299.1L181.7,293.2L180,288.9L179.1,282.1L181.7,276.2L183.7,271.9L181.7,266.8L180.8,261.7L179.1,257.9L173.2,255.9L165.5,254.9Z"/>
<path fill="#000" stroke-width="1.5" d="M175.7,292.7L180,293.7L184.2,296.6L188.8,300L187.6,302.2L183.4,301.2L179.1,298.3L176.6,295.4Z"/>
<path fill="#000" stroke-width="1.5" d="M169.1,279.6L172.3,278.7L173.2,281.3L171.5,284.2L169.8,286.4L168.7,283Z"/>
<path fill="#000" stroke-width="1.5" d="M398.4,290.4L402.3,289.3L403.5,292.1L401.8,295L404.6,297.8L407.4,299.5L408,302.9L408.6,306.3L405.7,308.6L404,306.3L401.8,306.9L398.9,305.2L394.4,304.6L389.8,304L387.6,303.5L390.4,300.6L393.2,297.2L396.1,293.3Z"/>
<path fill="#000" stroke-width="1.5" d="M374,297.2L377.4,296.3L380.8,297.2L379.6,298.6L375.7,298.9Z"/>
<path fill="#000" stroke-width="1.5" d="M377.4,309.7L379.6,308.9L381.7,309.7L379.6,310.6Z"/>
<path fill="#000" stroke-width="1.5" d="M342.1,188.2L348.9,185.6L359.1,183.9L362.5,182.2L376.1,180.5L393.2,179.7L410.2,179.1L423.8,179.7L432.3,181.9L425.5,183.9L417,186.5L410.2,188.2L401.7,189.9L393.2,192.4L384.7,195.8L379.6,198.4L369.3,199.2L359.1,198.9L352.3,197.5L357.4,195L364.2,192.4L368.5,189L365.9,186.5L359.1,189L350.6,191.6L343.8,190.7Z"/>
<path fill="#000" stroke-width="1.5" d="M341.3,200.1L348.9,199.2L359.1,200.1L369.3,201.3L373.1,203L369.3,205.2L359.1,205.7L348.9,205.2L342.1,203.5L339.6,201.3Z"/>
<path fill="#000" stroke-width="1.5" d="M318.6,189.9L323.4,189L328.5,190.4L330.5,192.8L326.8,194.1L321.7,193.3Z"/>
<path fill="#000" stroke-width="1.5" d="M332.8,192.1L337.9,191.1L342.1,192.8L339.6,195L334.5,194.5Z"/>
<path fill="#000" stroke-width="1.5" d="M332.8,196.7L338.7,195.8L343.8,197.9L342.1,200.1L336.2,200.1Z"/>
<path fill="#000" stroke-width="1.5" d="M318.3,198.4L325.1,197.5L328.8,199.2L326.8,202.3L320.8,203Z"/>
<path fill="#000" stroke-width="1.5" d="M328.5,201.8L332.8,200.9L336.2,202.6L333.6,204.7L329.3,204.3Z"/>
<path fill="#000" stroke-width="1.5" d="M294.8,192.8L299.6,191.1L305.5,191.6L306.7,193.3L302.1,195L297,195Z"/>
<path fill="#000" stroke-width="1.5" d="M265.5,198.9L274,196.7L282.5,195.8L285.9,198.4L291.1,199.2L298.7,197.5L304.7,199.2L308.1,201.8L304.7,204L296.2,204.3L285.9,205.2L279.1,204.3L274.9,201.8L268.9,200.6Z"/>
<path fill="#000" stroke-width="1.5" d="M244.8,212.8L250.2,208.6L255.3,206L263.8,205.2L272.3,206L275.7,208.1L270.6,210.3L263.8,211.5L260.4,214.5L257,215.4L250.2,216.6L246.8,214.9Z"/>
<path fill="#000" stroke-width="1.5" d="M260.4,216.6L263.8,212.8L270.6,210.8L279.1,209.8L287.7,210.3L294.5,210.3L298.7,208.6L301.3,211.1L299.6,216.2L304.7,219.7L308.1,222.2L303,223.1L296.2,223.9L289.4,224.8L282.5,226.1L274,225.6L267.2,225.1L261.3,226.1L259.6,223.1L262.1,220.5L260.1,218.8Z"/>
<path fill="#000" stroke-width="1.5" d="M308.1,210.3L313.2,208.1L320,207.4L323.4,209.4L321.7,212.8L316.6,214.5L311.5,214.2Z"/>
<path fill="#000" stroke-width="1.5" d="M325.1,206.9L331.9,205.7L338.7,206.9L335.3,210.3L330.2,212L325.9,210.3Z"/>
<path fill="#000" stroke-width="1.5" d="M307.2,222.2L311.5,220.5L315.7,221.7L314.9,224.8L310.6,226.1L307.7,224.8Z"/>
<path fill="#000" stroke-width="1.5" d="M337.9,212.8L342.1,209.8L350.6,208.1L359.1,208.6L365.9,208.1L374.4,209.8L379.6,212.8L386.4,215.4L393.2,219.7L394,223.1L389.8,226.1L396.6,229L405.1,231.6L400,235.3L393.2,237.5L389.8,234.1L386.4,235.3L391.5,239.2L392.3,243.5L386.4,246.9L381.3,247.7L376.1,244.3L371,241.8L364.2,240.9L357.4,240.1L355.7,237.5L362.5,236.3L369.3,235.3L374.4,231.9L376.1,228.2L372.7,224.8L365.9,222.7L359.1,221.4L354,222.2L348.9,221.4L342.1,217.9L338.7,215.4Z"/>
<path fill="#000" stroke-width="1.5" d="M362.9,226.8L366.8,225.6L370.7,227.3L369.3,229.9L365.1,230.7L362.5,229Z"/>
<path fill="#000" stroke-width="1.5" d="M332.8,236.3L338.7,237.5L348.9,241.8L342.1,243.1L335.3,243.1L330.2,242.6Z"/>
<path fill="#000" stroke-width="1.5" d="M335.3,246L338.4,245.2L340.7,246.5L338.7,248.1L335.8,247.7Z"/>
<path fill="#000" stroke-width="1.5" d="M344.7,248.9L346.9,248.2L348.2,249.6L346.4,250.6Z"/>
<path fill="#000" stroke-width="1.5" d="M189.2,299.3L276.4,299.3L278.2,301.6L284.5,306.6L305.2,307.8L307.7,315.4L308.9,322.9L305.2,328.4L320.2,324.9L321.5,321.1L329.7,319.9L335.4,315.9L338.8,315.4L343.3,314.2L347.9,311.4L351.8,308.6L355.8,306.3L358.1,307.4L359.8,312L360.3,315.9L356.9,317.7L353.5,319.9L350.1,321.6L346.7,324.5L345.6,327.9L343.3,330.1L338.8,331.8L335.4,333.5L332,336.9L329.7,340.3L325.2,343.7L322.9,347.1L321.8,351.7L318.9,355.1L315,359.6L310.4,363L307,366L300.4,370.2L296.6,376.5L297.9,381.5L299.9,387.7L300.4,394L297.9,397.8L295.4,394L294.1,387.7L291.6,381.5L287.8,379L282.8,377.7L275.3,377.2L269,377.7L266.5,380.7L260.3,379.7L252.8,380.7L245.2,384L240.2,389L238.2,394.8L235.2,391.5L230.2,386.5L226.4,380.2L222.7,379L216.4,375.2L212.7,372L200.1,371.2L187.6,369.7L178.8,368.2L177.6,365.2L174.3,360.7L170.6,356.4L169,350.2L167.5,342.6L167,335.1L169.5,327.6L173.1,320.1L177.1,312.6L180.6,305L182.1,301.3Z"/>
<path fill="#000" stroke-width="1.5" d="M178.8,368.2L187.6,369.7L200.1,371.2L212.7,372L216.4,375.2L222.7,379L226.4,380.2L230.2,386.5L235.2,391.5L238.2,394.8L237.2,400.3L235.2,406.5L235.7,414.1L237.7,420.3L242.7,425.3L249,426.6L254,424.1L256.5,419.1L259,414.1L265.3,412.8L271.6,414.1L269,419.1L265.3,425.3L262.8,430.4L260.3,431.6L255.3,432.9L254,436.6L251.5,440.4L246.5,435.4L239,436.6L231.5,436.6L223.9,432.9L216.4,427.8L210.2,421.6L207.6,416.6L209.6,411.6L207.1,404L203.1,396.5L199.6,389L196.4,381.5L192.6,375.2L189.6,371.7L187.1,371.2L185.8,375.2L186.6,382.7L188.6,390.3L191.1,396.5L194.1,402.3L195.6,405.3L193.6,406.8L190.6,402.8L186.8,396.5L183.1,389L180.6,380.2L179.1,372.7Z"/>
<path fill="#000000" d="M265.3,425.3L262.8,430.4L260.3,431.6L255.3,432.9L254,436.6L251.5,440.4L254.2,443.2L259.4,446.5L264.5,449L267.7,452.9L270.3,457.4L272.3,461.3L276.1,464.5L280,466.5L281.3,468.4L283.2,463.9L281.3,461.3L278.7,456.8L278.7,451L280.6,445.2L281.3,439.4L277.4,436.8L271,436.1L265.2,436.8L263.9,433.5L265.2,427.7Z"/>
<path fill="#000" stroke-width="1.5" d="M280,465.2L283.2,463.9L287.1,465.8L291,463.2L295.5,463.2L299.4,465.8L300.6,469.7L298.1,471L296.1,467.7L293.5,466.5L291,468.4L290.3,472.3L287.7,471.6L284.5,469L281.3,468.4Z"/>
<path fill="#000000" d="M281.6,409L286.6,407.3L294.1,407.8L300.4,410.3L306.6,414.1L312.9,417.3L315.4,419.8L310.4,420.3L304.1,419.1L300.4,415.3L295.4,413.3L289.1,412.3L284.1,411.6Z"/>
<path fill="#000000" d="M317.4,421.6L322.9,419.8L329.2,420.3L334.2,422.8L335,425.8L329.2,426.6L324.2,427.3L318.4,426.6L322.9,424.8L317.4,423.3Z"/>
<path fill="#000000" d="M300.9,426.6L304.1,425.3L307.4,426.8L304.1,428.3Z"/>
<path fill="#000000" d="M339.2,426.1L343.5,425.6L344,427.8L339.7,428.1Z"/>
<path fill="#000000" d="M304.1,399.5L304.9,398.8L305.6,399.5L304.9,400.3Z"/>
<path fill="#000000" d="M354.3,427.8L355,427.1L355.8,427.8L355,428.6Z"/>
<path fill="#000000" d="M356.8,431.6L357.5,430.9L358.3,431.6L357.5,432.4Z"/>
<path fill="#000000" d="M358.5,445.4L359.3,444.6L360,445.4L359.3,446.1Z"/>
<path fill="#000000" d="M357.3,451.7L358,450.9L358.8,451.7L358,452.4Z"/>
<path fill="#000000" d="M357,458.4L359.5,457.9L360,460.4L357.5,460.9Z"/>
<path fill="#000" stroke-width="1.5" d="M964.2,645.4L967.9,638.1L970.3,629.6L968.6,621.2L970.3,612.7L969.1,606.6L972.7,596.9L978.8,590.9L987.2,587.2L995.7,583.6L1004.2,578.7L1009.1,572.7L1015.1,569.1L1021.2,564.2L1028.4,560.6L1033.3,560.6L1035.7,556.9L1039.3,554.5L1044.2,552.1L1050.2,550.9L1056.3,551.4L1061.2,553.3L1059.9,558.2L1057.5,563L1061.2,566.6L1066,570.3L1072.1,573.9L1075.2,569.1L1076.9,563L1079.3,555.7L1081,549.7L1083,547.2L1084.9,552.1L1086.6,559.4L1089,564.2L1089.7,570.3L1092.7,576.3L1096.3,582.4L1099.9,588.4L1103.6,595.7L1106,603L1106.7,610.2L1106,618.7L1103.6,626L1099.9,633.3L1095.1,640.5L1090.2,646.6L1084.2,651.4L1078.1,655.1L1073.3,658.7L1067.2,661.1L1059.9,662.8L1053.9,662.3L1049,658.7L1045.4,655.1L1043,649L1041.8,643L1038.1,645.4L1036.9,649L1033.3,645.4L1030.9,640.5L1026,635.7L1018.7,633.3L1010.3,633.3L1001.8,634.5L993.3,636.9L986,640.5L978.8,644.2L971.5,646.6Z"/>
<path fill="#000" stroke-width="1.5" d="M1050.2,672.5L1056.3,670.8L1062.4,672.5L1061.2,678.1L1057.5,682.9L1052.7,683.7L1049.5,679.3Z"/>
<path fill="#000" stroke-width="1.5" d="M1034.5,651L1037.4,650L1039.3,651.4L1036.4,652.7Z"/>
<path fill="#000" stroke-width="1.5" d="M1041.3,550.2L1043.2,548.9L1044.7,550.4L1042.7,551.6Z"/>
<path fill="#000" stroke-width="1.5" d="M1159.3,647.3L1161.7,649L1161,655.1L1164.1,658.7L1170.2,658.7L1166.6,662.3L1161.7,666L1156.9,670.8L1152,673.2L1149.6,672L1153.2,667.2L1150.8,664.8L1154.4,661.1L1157.6,656.3L1158.1,651.4Z"/>
<path fill="#000" stroke-width="1.5" d="M1146,670.8L1147.9,673.2L1143.5,678.1L1137.5,682.2L1131.4,686.1L1124.2,690.2L1118.1,693.8L1112.5,695.1L1109.6,692.6L1114.5,689L1121.7,685.4L1129,681.2L1136.3,676.4L1142.3,672Z"/>
<path fill="#000000" d="M1079.3,512.1L1086.6,515.7L1093.9,519.4L1099.9,523L1104.8,526.7L1107.2,531.5L1104.8,533.9L1101.1,532.7L1099.9,536.3L1106,541.2L1112,546L1107.2,544.8L1099.9,542.4L1095.1,538.8L1091.4,535.1L1086.6,536.3L1083,538.8L1079.3,538.8Z"/>
<path fill="#000000" d="M1106,525.4L1112,525.4L1118.1,521.8L1121.7,519.4L1121.2,522.3L1116.9,525.4L1112,527.9L1107.2,527.1Z"/>
<path fill="#000000" d="M1128.5,525.4L1130.5,525L1132.1,529.6L1130.2,530.5Z"/>
<path fill="#000000" d="M1144.7,541.7L1147.2,540L1148.9,541.7L1146.4,543.6ZM1147.9,538.3L1149.8,537.1L1151.3,539.3L1149.4,540.5Z"/>
<path fill="#000000" d="M1164.9,564.2L1166.3,563.5L1167.3,565.9L1165.8,567.4Z"/>
<path fill="#000000" d="M1151.3,587.2L1153.2,586.3L1160,594L1158.1,595.5Z"/>
<path fill="#000000" d="M1199.8,575.6L1202.7,574.1L1205.6,576.1L1202.7,578ZM1206.5,570.8L1209.4,569.3L1211.9,570.8L1209,572.4Z"/>
<path fill="#000000" d="M1099.9,510.2L1102.8,509.7L1103.8,511.1L1100.9,511.6Z"/>
<path fill="#000" stroke-width="1.5" d="M298.9,466.3L303.9,461.3L308.9,457.5L316.4,455L322.2,451.3L323.2,453.8L318.9,458.8L317.7,463.8L320.2,470.1L325.2,472.6L332.7,475.1L336.5,477.6L335.2,483.9L336.5,488.9L335.2,493.9L328.9,495.6L326.4,498.9L327.7,505.2L325.2,512.7L320.2,508.9L313.9,506.4L307.6,503.9L306.4,503.9L301.4,500.2L295.1,497.1L296.4,491.4L298.9,485.1L300.1,477.6L298.9,471.3Z"/>
<path fill="#000000" d="M295.1,497.1L301.4,500.2L306.4,503.9L307.1,505.7L302.6,511.4L296.4,515.2L292.6,520.2L287.6,517.7L290.1,515.2L288.1,510.2L287.6,503.9L290.1,498.9Z"/>
<path fill="#000" stroke-width="1.5" d="M287.6,517.7L292.6,520.2L296.4,515.2L302.6,511.4L307.1,505.7L306.4,503.9L307.6,503.9L313.9,506.4L320.2,508.9L325.2,512.7L324.7,515.2L322.7,520.2L317.7,522.7L313.9,526.5L312.7,531.5L315.2,536.5L318.9,541.5L325.2,545.3L331.5,545.3L330.2,550.3L332.2,557.8L330.7,565.3L331.5,572.8L329.7,579.1L326.4,576.6L317.7,570.3L308.9,562.8L302.6,552.8L296.4,540.3L290.1,530.2L286.3,522.7Z"/>
<path fill="#000000" d="M335.2,493.9L336.5,488.9L335.2,483.9L336.5,477.6L332.7,475.1L325.2,472.6L320.2,470.1L317.7,463.8L318.9,458.8L320.2,456.3L325.2,455L332.7,457.5L340.2,458.8L347.7,458L355.3,460.1L360.3,463.8L359,470.1L360.3,475.1L365.3,477.6L370.3,480.1L376.6,478.8L381.6,479.6L380.3,486.4L384.1,492.6L377.8,492.6L372.8,493.9L367.8,495.6L364,495.1L362.8,490.1L361.5,485.1L360.3,481.4L354,485.1L350.3,486.4L346.5,487.6L344,492.6L339,497.1L335.2,493.9Z"/>
<path fill="#000" stroke-width="1.5" d="M381.6,479.6L386.6,480.1L390.4,482.6L392.9,485.1L389.1,488.9L384.1,492.6L380.3,486.4Z"/>
<path fill="#000" stroke-width="1.5" d="M335.2,493.9L339,497.1L344,492.6L346.5,487.6L350.3,486.4L354,485.1L360.3,481.4L361.5,485.1L362.8,490.1L364,495.1L367.8,495.6L372.8,493.9L377.8,492.6L384.1,492.6L389.1,488.9L392.9,485.1L395.4,491.4L397.4,496.4L396.6,502.7L402.9,505.7L410.4,507.7L420.4,511.4L430.5,515.2L438,517.7L445.5,522.7L450.5,527.7L452.5,534L450.5,541.5L445.5,550.3L440.5,556.5L438,565.3L437.5,575.3L435.5,585.4L430.5,592.9L422.9,597.9L415.4,602.9L409.1,609.2L406.6,615.4L402.9,623L397.9,630.5L394.1,634.2L387.8,629.2L382.8,628L380.3,628L385.3,620.5L389.1,612.9L387.3,610.4L385.3,602.9L380.3,599.1L376.6,592.9L374.1,587.9L370.3,584.1L371.6,576.6L367.8,570.3L362.8,566.6L360.3,560.3L355.3,555.3L349,552.8L344,547.8L341.5,542.8L335.2,544L331.5,545.3L325.2,545.3L318.9,541.5L315.2,536.5L312.7,531.5L313.9,526.5L317.7,522.7L322.7,520.2L324.7,515.2L325.2,512.7L327.7,505.2L326.4,498.9L328.9,495.6L335.2,493.9Z"/>
<path fill="#000" stroke-width="1.5" d="M390.4,505.7L395.4,502.7L401.6,503.9L402.9,507.7L397.9,510.2L392.4,508.9Z"/>
<path fill="#000000" d="M331.5,545.3L330.2,550.3L332.2,557.8L330.7,565.3L331.5,572.8L329.7,579.1L333.2,585.4L337.2,591.6L340.2,594.9L344,593.4L350.3,593.4L355.3,594.9L359,591.6L365.3,597.9L372.8,602.9L377.8,606.7L375.3,614.2L381.6,615.4L387.3,610.4L385.3,602.9L380.3,599.1L376.6,592.9L374.1,587.9L370.3,584.1L371.6,576.6L367.8,570.3L362.8,566.6L360.3,560.3L355.3,555.3L349,552.8L344,547.8L341.5,542.8L335.2,544L331.5,545.3Z"/>
<path fill="#000" stroke-width="1.5" d="M380.3,628L382.8,628L387.8,629.2L394.1,634.2L395.9,639.2L392.9,644.3L387.8,646.8L382.8,646L379.1,641.8L378.3,635.5L380.3,628Z"/>
<path fill="#000" stroke-width="1.5" d="M340.2,594.9L344,593.4L350.3,593.4L355.3,594.9L359,591.6L365.3,597.9L372.8,602.9L377.8,606.7L375.3,614.2L381.6,615.4L387.3,610.4L389.1,612.9L385.3,620.5L380.3,628L378.3,635.5L379.1,641.8L380.3,644.2L381.6,646.5L386.6,652.7L387.3,656.5L384.1,660.3L377.8,662.8L372.8,664L371.6,669L370.3,672.8L365.3,674L367.8,677.8L364,680.3L366.5,684.1L361.5,690.3L362.8,696.6L366.5,700.4L364,705.4L361.5,710.4L360.3,715.4L360.3,720.4L356.5,717.9L350.3,712.9L346.5,705.4L343.2,695.3L340.7,685.3L339,670.3L337.7,655.2L337.2,640.2L336.5,625.2L337.7,610.1L338.2,601.4L340.2,594.8Z"/>
<path fill="#000" stroke-width="1.5" d="M329.7,579.1L333.2,585.4L337.2,591.6L340.2,594.9L338.2,601.4L337.7,610.1L336.5,625.2L337.2,640.2L337.7,655.2L339,670.3L340.7,685.3L343.2,695.3L346.5,705.4L350.3,712.9L356.5,717.9L360.3,720.4L362.8,722.9L360.3,726.7L354,724.2L350.3,721.7L346.5,715.4L340.2,707.9L337.7,702.9L335.2,695.3L336.5,687.8L334.7,677.8L333.2,670.3L331.5,655.2L330.7,640.2L331.5,625.2L330.7,610.1L329.7,595.1L328.9,585.1Z"/>
<path fill="#000" stroke-width="1.5" d="M350.3,720.4L355.3,719.1L361.5,721.7L362.8,726.7L367.8,730.4L362.8,730.9L356.5,728.4L351.5,725.4Z"/>
<path fill="#000" stroke-width="1.5" d="M361.5,721.7L365.3,722.4L370.3,725.4L375.3,727.4L371.6,729.4L366.5,728.9L362.8,726.7Z"/>
<path fill="#000" stroke-width="1.5" d="M334.2,676.5L336.2,677.3L336.7,682.3L334.7,682.8Z"/>
<path fill="#000000" d="M387.8,715.4L391.6,714.1L396.6,715.4L395.4,717.9L390.4,718.1Z"/>
<path fill="#000000" d="M461.8,724.9L464.3,725.4L466,727.4L463,726.7Z"/>
<path fill="#ff0a96" stroke-width="0.5" stroke-opacity="0.65" d="M618.3,573.3L630.4,574L640.4,575.3L649.1,576.5L655.4,575.8L662.9,575.3L666.7,576.5L667.9,580.3L671.7,585.3L675,590.3L678,593.3L681.7,592.8L686,594.1L686.7,600.3L687.5,606.6L688,612.9L688.7,615.4L685.5,622.9L681.7,627.9L676.7,634.2L670.5,639.2L662.9,642.9L655.4,644.2L647.9,645.4L642.9,646.7L639.1,644.2L636.6,640.4L637.9,635.4L635.4,627.9L631.6,620.4L629.1,612.9L627.3,605.3L625.3,597.8L622.8,590.3L620.3,582.8L618.8,577.8L618.3,573.3Z"/>
<path fill="#0b5b8c" stroke-width="0.5" stroke-opacity="0.65" d="M723.1,298.9L727.6,292.6L736.4,288.8L747.6,289.6L758.9,291.4L763.9,287.6L762.7,281.3L770.2,277.1L782.7,274.6L792.8,277.6L801.5,279.6L807.8,277.6L815.3,281.3L822.8,285.1L829.1,291.4L837.9,295.1L846.6,298.1L850.4,300.1L845.4,303.9L840.4,308.1L841.6,312.7L837.9,316.4L835.4,321.4L834.1,325.2L830.4,326.4L822.8,325.2L815.3,323.9L807.8,326.4L801.5,331.5L797.8,332.7L794,327.7L789,323.9L782.7,322.2L776.5,321.4L770.2,317.7L765.2,313.9L760.2,314.7L757.2,315.7L757.7,321.4L758.4,328.7L753.9,328.2L749.6,328.2L747.4,325.4L745.1,320.9L741.6,319.2L739.1,319.4L740.1,315.4L744.1,312.9L745.9,309.4L742.4,307.6L736.6,307.9L731.4,309.6L727.6,305.6Z"/>
<path fill="#ff0a96" stroke-width="0.5" stroke-opacity="0.65" d="M850.4,300.1L856.7,303.9L862.9,308.9L870.5,313.9L880.5,318.9L890.5,323.9L903,326.4L915.6,327.7L925.6,326.4L934.4,322.7L939.4,317.7L948.1,313.9L955.7,310.2L959.4,306.4L955.7,303.9L948.1,303.1L943.1,301.4L944.4,296.4L949.4,291.4L948.1,285.1L948.8,281.5L957.6,282.8L965.1,287.8L972.6,294L980.1,299L990.2,302.8L997.7,301.6L998.1,302.9L1003.5,303.4L1004.7,308.7L1004.4,314.5L1002,316L1000.6,318.9L1002,322.8L1003.5,324.2L1000.6,326.2L997.2,329.1L994.3,332L990.4,334.4L986.5,336.8L983.1,338.3L979.7,339.7L978.3,337.3L977.3,333.9L974.4,332.9L972,335.4L970.5,338.3L968.6,340.7L966.2,341.7L968.1,343.1L971,343.6L973.4,346.5L976.8,345.5L980.7,346.5L984.6,347.5L985.3,348.9L982.6,349.9L980.2,352.3L977.8,355.2L978.8,358.1L981.7,361L984.6,364.9L987.5,368.8L989.9,371.7L991.8,375.1L993.3,378.5L994.3,382L990.5,390.2L988,397.7L981.7,403.9L974.2,408.9L966.7,411.5L962.9,415.2L960.4,412.7L957.4,414L950.4,409.7L944.1,407.7L937.9,410.2L934.1,412.7L930.4,408.9L926.6,411.5L922.8,407.7L920.3,401.4L916.6,396.4L914.1,390.2L911.3,387.5L910.8,385.6L906.9,381.7L903.1,381.2L897.2,383.6L893.4,388.5L891.4,387.5L887.5,385.6L883.7,386.5L881.2,387L879.8,387.5L874,387L868.2,384.6L862.3,380.7L857.5,377.3L852.6,377.3L850.7,375.4L846.8,372L843.9,369.1L844.4,365.2L843,359.4L839.1,354.5L832.3,353.1L827,349.2L822.6,344.8L820.2,340L824.1,335.2L830.4,331.5L835.4,325.2L835.4,321.4L837.9,316.4L841.6,312.7L840.4,308.1L845.4,303.9Z"/>
<path fill="#ff0a96" stroke-width="0.5" stroke-opacity="0.65" d="M958.4,420.2L961.2,418.5L964.2,420.7L963.4,424.7L960.4,426.2L958.2,424Z"/>
<path fill="#ff0a96" stroke-width="0.5" stroke-opacity="0.65" d="M996,398.2L998,397.2L999.5,401.4L998.5,407.7L996.5,409.7L995.3,405.2Z"/>
<path fill="#ffc107" stroke-width="0.5" stroke-opacity="0.65" d="M825,358.9L830.8,357L836.2,356L839.1,359.4L842,362.3L844.4,365.2L843.9,369.1L846.8,372L850.7,375.4L851.7,378.8L851.7,381.2L856.5,384.1L862.3,387L868.2,388.9L874,390.9L879.8,391.9L880.3,388.5L881.2,387L883.2,387.5L883.7,389.9L887.5,390.9L893.4,390.4L893.4,388.5L897.2,383.6L903.1,381.2L906.9,381.7L910.8,385.6L911.3,387.5L907.9,389.9L906,393.3L904.5,397.2L903.1,402L901.1,407.8L899.7,411.2L897.7,406.9L896.3,403L894.3,400.1L895.3,398.2L890.4,397.2L886.6,395.2L882.2,393.8L883.7,398.2L885.6,403L886.6,407.8L885.2,411.5L879,417.7L872.7,426.5L866.4,432.8L862.7,440.3L861.4,447.8L860.2,455.3L856.4,464.1L852.7,468.3L848.9,465.3L845.1,455.3L841.4,445.3L837.6,435.3L834.6,426.5L832.6,417.7L831.4,414L828.8,412.7L823.8,414L820.1,411.5L818.8,406.4L815.1,403.9L815.8,402L821.1,401.1L821.6,398.2L816.3,392.3L816.8,388.5L819.7,386.5L823.6,383.6L825.5,378.8L827.4,373L829.4,368.1L827,363.3Z"/>
<path fill="#0b5b8c" stroke-width="0.5" stroke-opacity="0.65" d="M696.3,381L699.7,378.6L704.5,375.7L702.6,371.8L705.5,369.9L710.8,369.4L715.2,370.8L720,374.2L724.9,378.1L729.7,381L735.6,381.5L736.5,379.1L738,380.8L740.4,382L742.8,385.9L746.2,390.7L749.1,394.6L752,397.5L754.9,400.4L757.8,402.8L761.7,405.2L765.6,408.2L768.5,410.6L769.5,414L767.5,417.8L763.7,420.8L759.8,422.7L754.9,424.1L750.1,424.6L746.2,426.6L744.3,429.5L742.8,430.9L738.5,430.4L732.6,430L727.8,430.4L723.9,427.5L720,422.7L716.2,417.8L713.3,413L710.8,408.2L707.4,403.3L704.5,398.5L701.6,393.6L699.2,389.7L696.8,385.9L695.3,383.4Z"/>
<path fill="#00aaff" stroke-width="0.5" stroke-opacity="0.65" d="M736.5,379.1L738.5,377.6L740.4,378.6L739.9,381L738,380.8Z"/>
<path fill="#00aaff" stroke-width="0.5" stroke-opacity="0.65" d="M757.8,402.8L761.7,402.3L765.1,400.4L767.5,397.5L770,394.6L771.4,396.5L771.9,399.4L774.3,402.3L778.2,405.2L782.1,407.7L785,410.6L783.5,414L781.1,417.8L779.2,420.8L777.7,423.7L775.3,426.6L772.4,429.5L768.2,431.5L761.9,428.9L761.9,427.5L759.8,422.7L763.7,420.8L767.5,417.8L769.5,414L768.5,410.6L765.6,408.2L761.7,405.2L757.8,402.8Z"/>
<path fill="#ff0a96" stroke-width="0.5" stroke-opacity="0.65" d="M920,421L923.6,418.6L928.4,419.8L930.8,423.4L932.7,426.5L936.3,427.1L941.1,425.8L946,428.3L949.6,432.5L950.2,437.3L948.4,441.6L943.5,442.8L940.5,444.6L939.3,448.2L941.7,451.9L938.1,450L934.5,447L932.1,447L930.8,451.9L929.6,456.7L930.8,460.9L933.3,465.8L935.1,470L937.5,474.2L939.9,477.3L936.3,477.3L933.9,475.4L930.8,470.6L928.4,467.6L926.4,465.2L927.2,460.3L929,455.5L929.6,453.1L930.2,448.2L927.8,443.4L924.8,437.3L923.6,432.5L920.6,426.5Z"/>
<path fill="#ff0a96" stroke-width="0.5" stroke-opacity="0.65" d="M941.7,408.1L946,406.5L950.8,408.3L955,411.9L959.9,413.7L962.3,415L958.1,415.6L952.6,415.3L949.6,418.6L948.1,422.8L949.8,427.7L953.2,431.3L957.5,435.5L961.1,440.4L963.5,445.8L964.1,451.2L962.3,455.5L958.1,459.1L954.4,462.7L950.8,466.4L949.4,461.3L950.8,456.7L955,452.8L956.9,448.2L956.2,443.4L956.9,438.5L954.4,434.3L950.2,429.5L946.6,425.2L944.2,421L942.3,416.8L940.5,413.1Z"/>
<path fill="#ff0a96" stroke-width="0.5" stroke-opacity="0.65" d="M957.8,422.6L959.3,419.8L961.9,419L964.7,420.2L965.6,422.8L964.1,425.5L961.4,426.5L958.8,425.2Z"/>
<path fill="#ff0a96" stroke-width="0.5" stroke-opacity="0.65" d="M994.6,402.3L995.8,398.4L997.4,397.2L999.2,398.6L999.9,403.5L998.9,407.7L997.4,409.8L995.6,408.3Z"/>
<path fill="#00aaff" stroke-width="0.5" stroke-opacity="0.65" d="M934.7,477.1L937.9,476.3L942.7,480.3L946,486L947.6,491.6L948.4,495.6L946,496.5L941.9,493.2L937.9,488.4L935.5,482.7Z"/>
<path fill="#ff0a96" stroke-width="0.5" stroke-opacity="0.65" d="M916.1,479.5L921,479.8L926.6,484.4L932.3,490L937.9,495.6L943.5,499.7L947.6,502.9L950,507.7L953.2,511.8L955.6,513.4L954.8,519.8L954,525.5L950,526.3L946,522.3L941.1,516.6L936.3,511L932.3,504.5L928.2,498.1L924.2,491.6L920.2,486L916.9,482.7Z"/>
<path fill="#ff0a96" stroke-width="0.5" stroke-opacity="0.65" d="M918.2,490L919.8,489.8L920.6,491.5L919,491.9Z"/>
<path fill="#ff0a96" stroke-width="0.5" stroke-opacity="0.65" d="M923.9,497.3L925.5,497.1L926.3,498.7L924.7,499.2Z"/>
<path fill="#ff0a96" stroke-width="0.5" stroke-opacity="0.65" d="M928.7,506.9L930.3,506.8L931.1,508.4L929.5,508.9Z"/>
<path fill="#ff0a96" stroke-width="0.5" stroke-opacity="0.65" d="M960.2,513.4L961.8,513.2L962.6,514.8L961,515.3Z"/>
<path fill="#ff0a96" stroke-width="0.5" stroke-opacity="0.65" d="M954,527.9L958.9,527.1L964.5,528.7L971,529.5L977.4,529.5L982.3,531.1L981.5,534.4L983.9,536L980.6,537.6L974.2,536.8L967.7,536L961.3,534.7L956.5,532.7L954,530.3Z"/>
<path fill="#ff0a96" stroke-width="0.5" stroke-opacity="0.65" d="M985.2,536L987.1,535.5L988.4,537.1L986.3,537.9ZM990.3,538.4L995.2,536.8L1000,537.3L1000.8,538.9L996,539.5L991.1,540ZM1003.2,537.6L1009.7,536.8L1014.5,537.3L1012.9,538.9L1006.5,539.5ZM999.7,542.1L1003.2,541.1L1006.5,543.2L1004,544.8L1000.3,544ZM1015.3,544L1020.2,540.8L1025,537.6L1029,537.3L1027.4,540L1022.6,543.2L1017.7,545.6L1015.3,545.3Z"/>
<path fill="#00aaff" stroke-width="0.5" stroke-opacity="0.65" d="M973.4,496.5L975.8,492.4L980.6,488.4L985.5,483.5L989.5,478.7L992.7,473.9L996.8,476.3L1001.6,480.3L1000,483.5L996.8,485.2L991.9,485.2L987.9,486.8L983.9,490.8L979.8,494L975.8,496.5L973.4,498.1Z"/>
<path fill="#ff0a96" stroke-width="0.5" stroke-opacity="0.65" d="M966.1,495.6L969.4,494.8L973.4,498.1L975.8,496.5L979.8,494L983.9,490.8L987.9,486.8L991.9,485.2L996.8,485.2L997.6,489.2L996.8,493.2L1000.8,498.1L997.6,501.3L995.2,506.9L992.7,512.6L989.5,516.6L987.1,519L983.1,516.6L977.4,515.8L972.6,514.2L969.4,510.2L968.5,505.3L966.1,501.3Z"/>
<path fill="#ff0a96" stroke-width="0.5" stroke-opacity="0.65" d="M1004.8,499.7L1009.7,497.3L1016.1,496.9L1022.6,496.5L1023.9,498.1L1019.4,499.7L1013.7,500.5L1008.9,501.3L1006.5,503.7L1007.3,506.1L1011.3,506.1L1016.1,505.3L1016.9,506.9L1012.1,508.5L1009.7,511L1012.9,515L1015.3,519.8L1014.8,523.9L1012.9,524.7L1010.5,520.6L1008.1,516.6L1006.5,513.4L1005.6,518.2L1005.6,523.9L1003.2,525.5L1002.4,519.8L1000.8,515L1002.4,510.2L1004,505.3Z"/>
<path fill="#ff0a96" stroke-width="0.5" stroke-opacity="0.65" d="M1031.5,495.6L1033.9,494.8L1036.3,496.5L1034.7,499.7L1033.1,503.7L1031.5,500.5Z"/>
<path fill="#ff0a96" stroke-width="0.5" stroke-opacity="0.65" d="M1026.6,516.3L1029,515L1031.5,516.3L1029.8,518.2L1027.4,518.2ZM1034.7,514.7L1038.7,513.7L1043.5,515.8L1042.7,517.9L1037.9,516.9Z"/>
<path fill="#ff0a96" stroke-width="0.5" stroke-opacity="0.65" d="M1034.2,492.4L1035.2,491.5L1036.1,492.4L1035.2,493.4Z"/>
<path fill="#ff0a96" stroke-width="0.5" stroke-opacity="0.65" d="M1031.6,508.5L1032.6,507.6L1033.5,508.5L1032.6,509.5Z"/>
<path fill="#ff0a96" stroke-width="0.5" stroke-opacity="0.65" d="M1021.3,509.8L1022.3,508.9L1023.2,509.8L1022.3,510.8Z"/>
<path fill="#ff0a96" stroke-width="0.5" stroke-opacity="0.65" d="M1043.4,533.5L1044.4,532.6L1045.3,533.5L1044.4,534.5Z"/>
<path fill="#ff0a96" stroke-width="0.5" stroke-opacity="0.65" d="M1041,549.7L1041.9,548.7L1042.9,549.7L1041.9,550.6Z"/>
<path fill="#ff0a96" stroke-width="0.5" stroke-opacity="0.65" d="M1061.1,506.6L1062.1,505.6L1063.1,506.6L1062.1,507.6Z"/>
<path fill="#ff0a96" stroke-width="0.5" stroke-opacity="0.65" d="M1055.2,526L1056.8,525L1057.4,527.9L1055.8,529.8Z"/>
<path fill="#ff0a96" stroke-width="0.5" stroke-opacity="0.65" d="M1046,506.1L1050,503.7L1054.8,504.5L1056.5,507.7L1054.8,511L1058.9,513.4L1062.9,511.8L1067.7,508.5L1073.4,509.4L1079.8,512.6L1079,539.2L1075,536.8L1071,534.4L1067.7,536.8L1066.9,534.7L1069.4,532.7L1066.1,528.7L1062.1,521.5L1058.1,519L1053.2,518.2L1050.8,515L1049.2,511Z"/>
<path fill="#ffc107" stroke-width="0.5" stroke-opacity="0.65" d="M1000.4,425.8L1006.4,425.2L1008.3,430.1L1007.1,434.9L1005.2,439.2L1008.3,443.4L1011.3,444.6L1014.9,447.6L1013.1,448.8L1009.5,446.4L1006.4,447L1007.7,450.6L1004.6,451.2L1002.8,445.8L1001,441L999.4,436.1L1000.4,431.3Z"/>
<path fill="#ffc107" stroke-width="0.5" stroke-opacity="0.65" d="M1010.1,454.5L1012.5,454L1014.3,456.7L1014.9,460.9L1013.7,464.2L1011.9,462.7L1011.3,459.1ZM1017.3,450.9L1020.4,450L1022.2,453.1L1021.6,457.3L1019.8,460.3L1017.9,457.9L1019.1,454.9Z"/>
<path fill="#ffc107" stroke-width="0.5" stroke-opacity="0.65" d="M1013.1,468.8L1016.7,467.6L1019.8,465.2L1022.8,462.7L1026.4,465.2L1027.6,470L1025.8,473.6L1023.4,478.5L1020.4,477.3L1017.9,473.6L1014.9,471.2Z"/>
<path fill="#ffc107" stroke-width="0.5" stroke-opacity="0.65" d="M996.4,463.3L998.6,460.3L1001.4,458.1L1002,459.1L999.4,461.5L997.1,464.2Z"/>
<path fill="#ff0a96" stroke-width="0.5" stroke-opacity="0.65" d="M1002,343.1L1005.9,346.5L1008.8,350.4L1011.2,354.7L1010.3,356.7L1006.9,358.1L1004,359.1L1002,357.2L1000.6,352.8L998.6,348.4L997.7,344.6Z"/>
<path fill="#ff0a96" stroke-width="0.5" stroke-opacity="0.65" d="M1031.6,314.1L1034.5,315.5L1037.9,317.9L1042.7,319.9L1049.5,322.8L1046.1,324.7L1044.2,328.1L1040.8,326.2L1037.9,326.6L1035.9,329.1L1033.5,327.6L1032.1,324.7L1034.5,322.3L1033,318.4Z"/>
<path fill="#ff0a96" stroke-width="0.5" stroke-opacity="0.65" d="M1036.4,332L1039.8,331.5L1042.7,334.4L1045.1,338.8L1046.6,343.6L1047.1,348.4L1046.6,352.3L1049,354.7L1047.6,357.2L1044.2,358.1L1040.8,357.7L1037.9,359.1L1036.4,362L1034,362L1031.6,360.6L1028.7,362L1026.2,364L1025.3,366.4L1023.3,363L1020.4,362L1017.5,363L1019,360.6L1021.9,357.7L1025.3,355.2L1029.1,354.7L1032.1,353.8L1033,350.4L1032.1,347.5L1035.4,348L1037.9,345.5L1039.3,341.7L1038.8,337.8L1037.4,334.4Z"/>
<path fill="#ff0a96" stroke-width="0.5" stroke-opacity="0.65" d="M1016.6,363L1019.5,364L1022.4,364.9L1023.3,367.8L1023.5,371.7L1021.4,373.6L1019.7,371.2L1019,367.8L1016.6,365.9Z"/>
<path fill="#ff0a96" stroke-width="0.5" stroke-opacity="0.65" d="M1025.8,363L1029.1,361.5L1031.6,362L1029.6,364L1026.7,365.9Z"/>
<path fill="#3ff59d" stroke-width="0.5" stroke-opacity="0.65" d="M591.3,255L590.4,250.7L593.8,247.3L598.9,244.8L603.2,242.2L607.4,238L611.7,232.9L616.8,227.8L622.8,223.5L628.7,220.6L635.5,218.4L642.3,217.2L649.1,216.4L655.1,216.7L658.5,218.4L659.3,220.6L656.8,223.5L657.6,227.8L655.9,232L658.5,236.3L661,240.5L664.4,244.8L667,249L664.4,252.4L659.3,254.1L654.2,255.8L649.1,256.3L644,255.3L640.6,254.1L638.9,250.7L637.2,246.5L638.1,242.2L641.5,238.8L645.7,237.1L643.2,235.9L638.9,237.1L635.5,240.5L632.1,243.9L629.6,247.3L627.9,250.7L629.6,254.1L631.3,257.5L628.7,260.9L627,264.3L625.3,268.6L623.6,272L620.2,273.4L616.8,273.7L614.2,271.2L613.4,266.9L611.7,263.5L610,260.9L607.4,260.1L604.9,261.8L601.5,263.5L598.1,263.8L595.5,262.6L593,260.1L591.6,257.5Z"/>
<path fill="#3ff59d" stroke-width="0.5" stroke-opacity="0.65" d="M602.3,189.5L608.3,188.3L615.1,187.3L621.9,186.9L632.1,186.6L641.5,187.3L638.9,189.5L632.1,190.3L625.3,191.2L622.8,194.6L617.6,198L613.4,196.3L609.1,193.4L604.9,191.7Z"/>
<path fill="#3ff59d" stroke-width="0.5" stroke-opacity="0.65" d="M630.4,194.1L633.8,193.7L636.4,194.7L633.5,195.8Z"/>
<path fill="#3ff59d" stroke-width="0.5" stroke-opacity="0.65" d="M630.1,265.2L631.6,264.2L632.6,266L631.3,267.8Z"/>
<path fill="#2ca266" stroke-width="0.5" stroke-opacity="0.65" d="M507.9,235.8L510.6,233L514.1,232.6L517.5,235.1L521.6,234.4L527.1,233.7L532.6,233.4L536,232.6L538.1,235.8L537.4,238.5L533.3,240.5L528.5,241.9L523.7,243.3L518.9,243L514.1,241.9L512,239.2L511.3,236.4Z"/>
<path fill="#0b5b8c" stroke-width="0.5" stroke-opacity="0.65" d="M559.8,263.5L563.2,261.5L566.6,261.5L570.8,263.5L568.3,267.8L570.8,270.3L570,273.7L573.4,278L575.9,281.4L579.4,283.9L581.1,287.3L579.4,289.9L574.2,291.1L569.1,292.8L563.2,293.6L560.6,292.4L564.9,290.4L566.6,288.2L562.3,287.3L564,283.9L566.6,281.4L564.9,278.8L562.3,277.1L563.2,273.7L560.6,272L561.5,268.6L558.9,266.9Z"/>
<path fill="#0b5b8c" stroke-width="0.5" stroke-opacity="0.65" d="M545.3,281.4L547.9,277.1L552.1,274.6L556.4,275.4L558.1,278.8L557.2,283.1L554.7,286.5L550.4,288.2L546.2,288.7L544.5,285.6Z"/>
<path fill="#00aaff" stroke-width="0.5" stroke-opacity="0.65" d="M546.1,323.2L550.6,321.5L559.7,321.3L568.7,323.2L577.7,325.2L585.5,326.5L584.8,329.7L580.3,332.9L577.1,337.4L575.2,341.9L571.3,346.5L566.1,349L560.3,350.3L557.1,351.6L554.5,349L550.6,347.7L551.9,343.2L552.6,338.1L553.9,332.9L553.9,328.8L546.8,328.4Z"/>
<path fill="#0b5b8c" stroke-width="0.5" stroke-opacity="0.65" d="M546.8,328.4L553.9,328.8L553.9,332.9L552.6,338.1L551.9,343.2L550.6,347.7L546.8,347.1L545.5,341.9L546.1,335.5Z"/>
<path fill="#00aaff" stroke-width="0.5" stroke-opacity="0.65" d="M584.2,337.8L585.5,336.8L586.8,337.8L585.5,339Z"/>
<path fill="#0b5b8c" stroke-width="0.5" stroke-opacity="0.65" d="M561.5,301.6L565.7,299.9L570.8,300.4L573.4,298.2L576.8,299L581.1,296.5L584.5,293.6L587.9,291.9L590.4,293.9L593.8,296.5L597.2,299L599.8,300.7L602.3,302.4L601.5,305.8L599.8,308.4L597.2,310.6L595.5,313.5L598.1,315.2L597.7,318.6L599.8,321.2L595.5,322.9L591.3,322L587.9,322.9L585.3,325.9L577.7,324.9L570.8,323.7L570.8,319.5L570,314.4L568.3,310.9L565.7,308.4L563.2,305.8L561.5,303.8Z"/>
<path fill="#0b5b8c" stroke-width="0.5" stroke-opacity="0.65" d="M604.2,325.2L606.1,324.5L607.2,327.1L606.4,330.1L604.8,330.1L603.8,327.5Z"/>
<path fill="#ff0a96" stroke-width="0.5" stroke-opacity="0.65" d="M620.5,281.2L625.3,278.6L631.3,276.6L637.2,277.8L642.3,278.3L647.4,279L649.1,283.7L648.3,288L651.2,293.1L649.1,298.2L645.7,299.9L641.5,299L637.2,298.2L632.1,296.5L627.9,294.8L624.5,293.1L621,293.1L621.9,290.5L621,285.4Z"/>
<path fill="#ff0a96" stroke-width="0.5" stroke-opacity="0.65" d="M606.6,306.7L610,305.8L613.4,305.8L616.8,304.1L620.2,301.6L622.8,301.6L626.2,300.7L629.6,301.6L630.4,305L627.9,308.4L623.6,310.1L618.5,310.6L614.2,309.6L610,309.2L607.4,308.9Z"/>
<path fill="#0b5b8c" stroke-width="0.5" stroke-opacity="0.65" d="M597.2,310.6L599.8,308.4L602.3,307.2L606.6,306.7L607.4,308.9L605.7,311.8L602.3,312.7L598.9,313.5L595.5,313.5Z"/>
<path fill="#ff0a96" stroke-width="0.5" stroke-opacity="0.65" d="M598.1,315.2L598.9,313.5L602.3,312.7L605.7,311.8L607.4,308.9L610,309.2L614.2,309.6L618.5,310.6L621,312.7L618.5,314.4L616.8,316.9L618.5,321.2L622.8,326.3L627.9,330.5L632.1,333.1L636.4,334.8L634.7,337.3L631.3,335.6L630.4,338.2L632.1,341.6L630.4,345L627.9,344.1L628.7,339.9L626.2,336.5L622.8,333.1L618.5,330.5L614.2,327.1L610.8,322.9L607.4,319.5L603.2,319.5L599.8,321.2L597.7,318.6Z"/>
<path fill="#ff0a96" stroke-width="0.5" stroke-opacity="0.65" d="M618.5,345L622.8,344.1L627.9,345L627,348.4L624.5,350.1L620.2,348Z"/>
<path fill="#ff0a96" stroke-width="0.5" stroke-opacity="0.65" d="M603.3,332.9L606.1,331.9L607.8,334.2L607.4,338.7L605.5,340.6L603.5,339.4L602.9,336.1Z"/>
<path fill="#0b5b8c" stroke-width="0.5" stroke-opacity="0.65" d="M624.8,312.9L629.4,311L634.5,311.6L638.4,314.2L637.7,316.8L633.2,315.5L629.4,315.5L627.4,317.4L629.4,320.6L631.9,323.2L630,323.2L626.8,320L624.8,316.1Z"/>
<path fill="#ffc107" stroke-width="0.5" stroke-opacity="0.65" d="M661.9,330.5L664.4,328.3L667.8,329.3L666.1,332.2Z"/>
<path fill="#ffc107" stroke-width="0.5" stroke-opacity="0.65" d="M664.4,333.1L669.6,332.2L671.3,331.7L678.1,329.7L684.9,328.3L691.7,328L698.5,329.3L705.3,330.5L710.4,330L714.6,329.3L717.2,332.2L720.6,333.9L723.2,337.3L722.3,340.7L724,344.1L724.9,347.5L718.9,348L712.1,347.5L705.3,348.4L700.2,349.2L697.6,350.1L695.9,352.1L694.2,349.8L690,349.2L686.6,350.9L682.3,351.5L678.1,349.2L674.7,350.1L671.3,351.8L667.8,349.2L666.1,346.7L664.4,343.3L665.3,339.9L663.6,336.5Z"/>
<path fill="#2ca266" stroke-width="0.5" stroke-opacity="0.65" d="M695.9,360.3L697.6,362.9L696.8,370.5L695.9,377.3L694.2,384.1L692.5,375.6L693.4,368.8L694.7,363.7Z"/>
<path fill="#0b5b8c" stroke-width="0.5" stroke-opacity="0.65" d="M597.5,280.8L600.8,279.2L603,277L604.5,276.4L606.7,277.4L611.1,278.8L615.5,278.1L619.9,280.3L620.6,284.3L621.3,288L620.6,290.9L616.9,292.4L614.7,294.6L616.9,297.5L618.8,300.5L616.9,302.7L614,303.8L611.1,304.3L606.7,305.2L602.3,306L601.2,305.6L602.3,301.9L601.5,299.7L596.8,298.3L595.3,296.1L595.7,293.1L595.3,290.6L595.8,288.4L596.8,285.4L598.4,282.5Z"/>
<path fill="#2ca266" stroke-width="0.5" stroke-opacity="0.65" d="M600.1,270.8L602.3,267.5L605.9,265.6L607.8,267.5L606.7,270.8L605.2,274.1L604.5,276.4L603,277L601.5,274.8Z"/>
<path fill="#2ca266" stroke-width="0.5" stroke-opacity="0.65" d="M610,272.6L612.2,271.5L614,273L612.9,274.8L610.7,274.6Z"/>
<path fill="#0b5b8c" stroke-width="0.5" stroke-opacity="0.65" d="M584.7,291.7L589.2,288L592,289.5L595.3,290.6L595.7,293.1L594.9,296.1L592,294.6L588.3,293.1L585.8,292.8Z"/>
<path fill="#00aaff" stroke-width="0.5" stroke-opacity="0.65" d="M27.5,420L30,418L33,419.5L33,422.5L29.5,423Z"/>
<path fill="#00aaff" stroke-width="0.5" stroke-opacity="0.65" d="M194.4,221.4L188.5,220.5L180,219.1L171.5,217.8L164.7,216.6L159.2,215.7L154.4,216.6L147.6,218.3L140.8,220L134,222.2L128.9,223.9L123.8,225.1L121.8,227.3L123.8,229.7L124.2,231.1L120.4,232.4L115.3,232.8L110.2,234.1L106.5,235.8L106.8,238.7L110.2,239.9L115.3,239.6L119.6,240.4L117.9,242.6L112.8,244.3L106.8,245.5L101.7,246.7L97.4,248.9L94.9,251.5L94.5,254L96.6,255.7L98.6,258.3L100.8,259.1L103.4,260.8L105.9,262.5L108.5,261.7L111,260.8L111.9,263L108.5,265.1L103.4,267.6L97.4,270.2L91.5,272.4L85.5,274.6L80.9,276.7L85.5,276.3L91.5,274.1L97.4,271.9L104.2,269.2L110.2,266.5L116.2,263.4L121.3,260.7L125.9,257.9L130.6,254.9L134.9,253.5L139.1,252.8L143.4,253.7L147.6,253.2L151.9,254.2L157,255.9L161.6,257.6L166,258.6L169.8,260L173.5,262.5L176.6,266.8L178.6,271.9L180.3,278.4L182.5,276.2L183.7,271.9L181.7,266.8L180.8,261.7L179.1,257.9L173.2,255.9L165.5,254.9Z"/>
<path fill="#00aaff" stroke-width="0.5" stroke-opacity="0.65" d="M88.9,243.3L91.5,242.6L94,243.6L93.2,245L90.1,245Z"/>
<path fill="#00aaff" stroke-width="0.5" stroke-opacity="0.65" d="M86.4,255.7L88.9,254.5L91.8,255.6L90.6,257.1L87.7,257.3Z"/>
<path fill="#00aaff" stroke-width="0.5" stroke-opacity="0.65" d="M113.3,267.1L117,264.8L122.1,262.5L124.2,263.4L120.4,265.9L115.3,268.5Z"/>
<path fill="#00aaff" stroke-width="0.5" stroke-opacity="0.65" d="M128.9,258.6L133.2,256.1L138.3,253.5L139.1,254.5L134.4,257.4L130.3,259.6Z"/>
<path fill="#00aaff" stroke-width="0.5" stroke-opacity="0.65" d="M76.2,276.2L78.2,275L79.9,275.8L78.7,277.3L76.7,277.3Z"/>
<path fill="#00aaff" stroke-width="0.5" stroke-opacity="0.65" d="M64.6,280.1L65.6,279.4L66.6,280.2L65.8,281.3Z"/>
<path fill="#00aaff" stroke-width="0.5" stroke-opacity="0.65" d="M169.8,263.7L172.3,263.4L174.5,267.6L174,271L171.5,268.5Z"/>
<path fill="#00aaff" stroke-width="0.5" stroke-opacity="0.65" d="M172.8,273.3L175.2,272.8L176.9,277.3L174.9,279L173.2,276.2Z"/>
<path fill="#0b5b8c" stroke-width="0.5" stroke-opacity="0.65" d="M194.2,220.9L203,223.1L213,221.4L223.1,220.6L233.8,218.9L238.1,221.9L240,221.4L250.2,222.7L259.6,226.5L274,227.5L291.1,227.8L308.1,228.5L314.9,226.5L320,223.1L321.7,217.9L325.1,214.5L328.5,216.6L329.3,221.4L332.8,226.5L337,229L342.1,227.3L348.9,223.1L353.2,221.4L352.7,226.5L350.6,230.7L346.4,234.1L342.1,235.8L335.3,236.3L331.9,237.5L325.1,240.1L316.6,244.3L308.1,249.4L301.3,253.7L297,258.8L298.7,263.9L301.3,267.3L308.1,269.9L314.9,272.4L321.7,274.1L326.8,277.5L325.1,282.6L325.9,287.7L329.3,289.4L332.8,286.9L334.5,280.9L335.3,276.7L340.4,274.1L345.5,270.7L348.1,265.6L346.4,260.5L348.9,255.4L351.5,250.3L350.6,247.7L359.1,246.9L365.9,248.6L371,252L372.7,257.1L376.1,260.5L381.3,258.8L386.4,255.4L388.4,257.1L390.6,263.9L393.2,270.7L389.8,270L396.6,274.5L402.3,279.1L404.6,283L403.5,287L398.9,289.9L392.1,292.1L387.6,293.3L380.8,294.4L374,294.4L368.3,295.5L363.7,297.8L359.2,300.1L354.7,303.5L350.1,306.3L345.6,309.1L341.1,311.4L337.7,313.7L338.8,314.5L344.5,311.4L350.1,308.6L355.2,305.7L359.8,302.9L363.7,300.6L368.3,298.9L371.7,298.4L373.4,300.1L371.1,302.9L369.4,306.3L370,309.7L372.8,312L376.2,312.5L379.6,310.8L383,308L384.4,309.7L383.6,312.5L380.8,314.2L377.4,315.4L372.8,316.5L369.4,318.2L366,320.5L363.2,321.6L361.5,319.9L364.3,317.1L368.3,314.8L367.1,313.7L363.7,314.8L360.3,315.9L359.8,312L358.1,307.4L355.8,306.3L351.8,308.6L347.9,311.4L343.3,314.2L338.8,315.4L335.4,315.9L329.7,319.9L321.5,321.1L320.2,324.9L305.2,328.4L308.9,322.9L307.7,315.4L305.2,307.8L284.5,306.6L278.2,301.6L276.4,299.3L189.2,299.3L187.6,299.1L181.7,293.2L180,288.9L179.1,282.1L181.7,276.2L183.7,271.9L181.7,266.8L180.8,261.7L179.1,257.9L173.2,255.9L165.5,254.9Z"/>
<path fill="#0b5b8c" stroke-width="0.5" stroke-opacity="0.65" d="M175.7,292.7L180,293.7L184.2,296.6L188.8,300L187.6,302.2L183.4,301.2L179.1,298.3L176.6,295.4Z"/>
<path fill="#0b5b8c" stroke-width="0.5" stroke-opacity="0.65" d="M169.1,279.6L172.3,278.7L173.2,281.3L171.5,284.2L169.8,286.4L168.7,283Z"/>
<path fill="#0b5b8c" stroke-width="0.5" stroke-opacity="0.65" d="M398.4,290.4L402.3,289.3L403.5,292.1L401.8,295L404.6,297.8L407.4,299.5L408,302.9L408.6,306.3L405.7,308.6L404,306.3L401.8,306.9L398.9,305.2L394.4,304.6L389.8,304L387.6,303.5L390.4,300.6L393.2,297.2L396.1,293.3Z"/>
<path fill="#0b5b8c" stroke-width="0.5" stroke-opacity="0.65" d="M374,297.2L377.4,296.3L380.8,297.2L379.6,298.6L375.7,298.9Z"/>
<path fill="#0b5b8c" stroke-width="0.5" stroke-opacity="0.65" d="M377.4,309.7L379.6,308.9L381.7,309.7L379.6,310.6Z"/>
<path fill="#0b5b8c" stroke-width="0.5" stroke-opacity="0.65" d="M342.1,188.2L348.9,185.6L359.1,183.9L362.5,182.2L376.1,180.5L393.2,179.7L410.2,179.1L423.8,179.7L432.3,181.9L425.5,183.9L417,186.5L410.2,188.2L401.7,189.9L393.2,192.4L384.7,195.8L379.6,198.4L369.3,199.2L359.1,198.9L352.3,197.5L357.4,195L364.2,192.4L368.5,189L365.9,186.5L359.1,189L350.6,191.6L343.8,190.7Z"/>
<path fill="#0b5b8c" stroke-width="0.5" stroke-opacity="0.65" d="M341.3,200.1L348.9,199.2L359.1,200.1L369.3,201.3L373.1,203L369.3,205.2L359.1,205.7L348.9,205.2L342.1,203.5L339.6,201.3Z"/>
<path fill="#0b5b8c" stroke-width="0.5" stroke-opacity="0.65" d="M318.6,189.9L323.4,189L328.5,190.4L330.5,192.8L326.8,194.1L321.7,193.3Z"/>
<path fill="#0b5b8c" stroke-width="0.5" stroke-opacity="0.65" d="M332.8,192.1L337.9,191.1L342.1,192.8L339.6,195L334.5,194.5Z"/>
<path fill="#0b5b8c" stroke-width="0.5" stroke-opacity="0.65" d="M332.8,196.7L338.7,195.8L343.8,197.9L342.1,200.1L336.2,200.1Z"/>
<path fill="#0b5b8c" stroke-width="0.5" stroke-opacity="0.65" d="M318.3,198.4L325.1,197.5L328.8,199.2L326.8,202.3L320.8,203Z"/>
<path fill="#0b5b8c" stroke-width="0.5" stroke-opacity="0.65" d="M328.5,201.8L332.8,200.9L336.2,202.6L333.6,204.7L329.3,204.3Z"/>
<path fill="#0b5b8c" stroke-width="0.5" stroke-opacity="0.65" d="M294.8,192.8L299.6,191.1L305.5,191.6L306.7,193.3L302.1,195L297,195Z"/>
<path fill="#0b5b8c" stroke-width="0.5" stroke-opacity="0.65" d="M265.5,198.9L274,196.7L282.5,195.8L285.9,198.4L291.1,199.2L298.7,197.5L304.7,199.2L308.1,201.8L304.7,204L296.2,204.3L285.9,205.2L279.1,204.3L274.9,201.8L268.9,200.6Z"/>
<path fill="#0b5b8c" stroke-width="0.5" stroke-opacity="0.65" d="M244.8,212.8L250.2,208.6L255.3,206L263.8,205.2L272.3,206L275.7,208.1L270.6,210.3L263.8,211.5L260.4,214.5L257,215.4L250.2,216.6L246.8,214.9Z"/>
<path fill="#0b5b8c" stroke-width="0.5" stroke-opacity="0.65" d="M260.4,216.6L263.8,212.8L270.6,210.8L279.1,209.8L287.7,210.3L294.5,210.3L298.7,208.6L301.3,211.1L299.6,216.2L304.7,219.7L308.1,222.2L303,223.1L296.2,223.9L289.4,224.8L282.5,226.1L274,225.6L267.2,225.1L261.3,226.1L259.6,223.1L262.1,220.5L260.1,218.8Z"/>
<path fill="#0b5b8c" stroke-width="0.5" stroke-opacity="0.65" d="M308.1,210.3L313.2,208.1L320,207.4L323.4,209.4L321.7,212.8L316.6,214.5L311.5,214.2Z"/>
<path fill="#0b5b8c" stroke-width="0.5" stroke-opacity="0.65" d="M325.1,206.9L331.9,205.7L338.7,206.9L335.3,210.3L330.2,212L325.9,210.3Z"/>
<path fill="#0b5b8c" stroke-width="0.5" stroke-opacity="0.65" d="M307.2,222.2L311.5,220.5L315.7,221.7L314.9,224.8L310.6,226.1L307.7,224.8Z"/>
<path fill="#0b5b8c" stroke-width="0.5" stroke-opacity="0.65" d="M337.9,212.8L342.1,209.8L350.6,208.1L359.1,208.6L365.9,208.1L374.4,209.8L379.6,212.8L386.4,215.4L393.2,219.7L394,223.1L389.8,226.1L396.6,229L405.1,231.6L400,235.3L393.2,237.5L389.8,234.1L386.4,235.3L391.5,239.2L392.3,243.5L386.4,246.9L381.3,247.7L376.1,244.3L371,241.8L364.2,240.9L357.4,240.1L355.7,237.5L362.5,236.3L369.3,235.3L374.4,231.9L376.1,228.2L372.7,224.8L365.9,222.7L359.1,221.4L354,222.2L348.9,221.4L342.1,217.9L338.7,215.4Z"/>
<path fill="#0b5b8c" stroke-width="0.5" stroke-opacity="0.65" d="M362.9,226.8L366.8,225.6L370.7,227.3L369.3,229.9L365.1,230.7L362.5,229Z"/>
<path fill="#0b5b8c" stroke-width="0.5" stroke-opacity="0.65" d="M332.8,236.3L338.7,237.5L348.9,241.8L342.1,243.1L335.3,243.1L330.2,242.6Z"/>
<path fill="#0b5b8c" stroke-width="0.5" stroke-opacity="0.65" d="M335.3,246L338.4,245.2L340.7,246.5L338.7,248.1L335.8,247.7Z"/>
<path fill="#0b5b8c" stroke-width="0.5" stroke-opacity="0.65" d="M344.7,248.9L346.9,248.2L348.2,249.6L346.4,250.6Z"/>
<path fill="#00aaff" stroke-width="0.5" stroke-opacity="0.65" d="M189.2,299.3L276.4,299.3L278.2,301.6L284.5,306.6L305.2,307.8L307.7,315.4L308.9,322.9L305.2,328.4L320.2,324.9L321.5,321.1L329.7,319.9L335.4,315.9L338.8,315.4L343.3,314.2L347.9,311.4L351.8,308.6L355.8,306.3L358.1,307.4L359.8,312L360.3,315.9L356.9,317.7L353.5,319.9L350.1,321.6L346.7,324.5L345.6,327.9L343.3,330.1L338.8,331.8L335.4,333.5L332,336.9L329.7,340.3L325.2,343.7L322.9,347.1L321.8,351.7L318.9,355.1L315,359.6L310.4,363L307,366L300.4,370.2L296.6,376.5L297.9,381.5L299.9,387.7L300.4,394L297.9,397.8L295.4,394L294.1,387.7L291.6,381.5L287.8,379L282.8,377.7L275.3,377.2L269,377.7L266.5,380.7L260.3,379.7L252.8,380.7L245.2,384L240.2,389L238.2,394.8L235.2,391.5L230.2,386.5L226.4,380.2L222.7,379L216.4,375.2L212.7,372L200.1,371.2L187.6,369.7L178.8,368.2L177.6,365.2L174.3,360.7L170.6,356.4L169,350.2L167.5,342.6L167,335.1L169.5,327.6L173.1,320.1L177.1,312.6L180.6,305L182.1,301.3Z"/>
<path fill="#0b5b8c" stroke-width="0.5" stroke-opacity="0.65" d="M178.8,368.2L187.6,369.7L200.1,371.2L212.7,372L216.4,375.2L222.7,379L226.4,380.2L230.2,386.5L235.2,391.5L238.2,394.8L237.2,400.3L235.2,406.5L235.7,414.1L237.7,420.3L242.7,425.3L249,426.6L254,424.1L256.5,419.1L259,414.1L265.3,412.8L271.6,414.1L269,419.1L265.3,425.3L262.8,430.4L260.3,431.6L255.3,432.9L254,436.6L251.5,440.4L246.5,435.4L239,436.6L231.5,436.6L223.9,432.9L216.4,427.8L210.2,421.6L207.6,416.6L209.6,411.6L207.1,404L203.1,396.5L199.6,389L196.4,381.5L192.6,375.2L189.6,371.7L187.1,371.2L185.8,375.2L186.6,382.7L188.6,390.3L191.1,396.5L194.1,402.3L195.6,405.3L193.6,406.8L190.6,402.8L186.8,396.5L183.1,389L180.6,380.2L179.1,372.7Z"/>
<path fill="#ff0a96" stroke-width="0.5" stroke-opacity="0.65" d="M280,465.2L283.2,463.9L287.1,465.8L291,463.2L295.5,463.2L299.4,465.8L300.6,469.7L298.1,471L296.1,467.7L293.5,466.5L291,468.4L290.3,472.3L287.7,471.6L284.5,469L281.3,468.4Z"/>
<path fill="#3ff59d" stroke-width="0.5" stroke-opacity="0.65" d="M964.2,645.4L967.9,638.1L970.3,629.6L968.6,621.2L970.3,612.7L969.1,606.6L972.7,596.9L978.8,590.9L987.2,587.2L995.7,583.6L1004.2,578.7L1009.1,572.7L1015.1,569.1L1021.2,564.2L1028.4,560.6L1033.3,560.6L1035.7,556.9L1039.3,554.5L1044.2,552.1L1050.2,550.9L1056.3,551.4L1061.2,553.3L1059.9,558.2L1057.5,563L1061.2,566.6L1066,570.3L1072.1,573.9L1075.2,569.1L1076.9,563L1079.3,555.7L1081,549.7L1083,547.2L1084.9,552.1L1086.6,559.4L1089,564.2L1089.7,570.3L1092.7,576.3L1096.3,582.4L1099.9,588.4L1103.6,595.7L1106,603L1106.7,610.2L1106,618.7L1103.6,626L1099.9,633.3L1095.1,640.5L1090.2,646.6L1084.2,651.4L1078.1,655.1L1073.3,658.7L1067.2,661.1L1059.9,662.8L1053.9,662.3L1049,658.7L1045.4,655.1L1043,649L1041.8,643L1038.1,645.4L1036.9,649L1033.3,645.4L1030.9,640.5L1026,635.7L1018.7,633.3L1010.3,633.3L1001.8,634.5L993.3,636.9L986,640.5L978.8,644.2L971.5,646.6Z"/>
<path fill="#3ff59d" stroke-width="0.5" stroke-opacity="0.65" d="M1050.2,672.5L1056.3,670.8L1062.4,672.5L1061.2,678.1L1057.5,682.9L1052.7,683.7L1049.5,679.3Z"/>
<path fill="#3ff59d" stroke-width="0.5" stroke-opacity="0.65" d="M1034.5,651L1037.4,650L1039.3,651.4L1036.4,652.7Z"/>
<path fill="#3ff59d" stroke-width="0.5" stroke-opacity="0.65" d="M1041.3,550.2L1043.2,548.9L1044.7,550.4L1042.7,551.6Z"/>
<path fill="#0b5b8c" stroke-width="0.5" stroke-opacity="0.65" d="M1159.3,647.3L1161.7,649L1161,655.1L1164.1,658.7L1170.2,658.7L1166.6,662.3L1161.7,666L1156.9,670.8L1152,673.2L1149.6,672L1153.2,667.2L1150.8,664.8L1154.4,661.1L1157.6,656.3L1158.1,651.4Z"/>
<path fill="#0b5b8c" stroke-width="0.5" stroke-opacity="0.65" d="M1146,670.8L1147.9,673.2L1143.5,678.1L1137.5,682.2L1131.4,686.1L1124.2,690.2L1118.1,693.8L1112.5,695.1L1109.6,692.6L1114.5,689L1121.7,685.4L1129,681.2L1136.3,676.4L1142.3,672Z"/>
<path fill="#00aaff" stroke-width="0.5" stroke-opacity="0.65" d="M298.9,466.3L303.9,461.3L308.9,457.5L316.4,455L322.2,451.3L323.2,453.8L318.9,458.8L317.7,463.8L320.2,470.1L325.2,472.6L332.7,475.1L336.5,477.6L335.2,483.9L336.5,488.9L335.2,493.9L328.9,495.6L326.4,498.9L327.7,505.2L325.2,512.7L320.2,508.9L313.9,506.4L307.6,503.9L306.4,503.9L301.4,500.2L295.1,497.1L296.4,491.4L298.9,485.1L300.1,477.6L298.9,471.3Z"/>
<path fill="#ff0a96" stroke-width="0.5" stroke-opacity="0.65" d="M287.6,517.7L292.6,520.2L296.4,515.2L302.6,511.4L307.1,505.7L306.4,503.9L307.6,503.9L313.9,506.4L320.2,508.9L325.2,512.7L324.7,515.2L322.7,520.2L317.7,522.7L313.9,526.5L312.7,531.5L315.2,536.5L318.9,541.5L325.2,545.3L331.5,545.3L330.2,550.3L332.2,557.8L330.7,565.3L331.5,572.8L329.7,579.1L326.4,576.6L317.7,570.3L308.9,562.8L302.6,552.8L296.4,540.3L290.1,530.2L286.3,522.7Z"/>
<path fill="#0b5b8c" stroke-width="0.5" stroke-opacity="0.65" d="M381.6,479.6L386.6,480.1L390.4,482.6L392.9,485.1L389.1,488.9L384.1,492.6L380.3,486.4Z"/>
<path fill="#ff0a96" stroke-width="0.5" stroke-opacity="0.65" d="M335.2,493.9L339,497.1L344,492.6L346.5,487.6L350.3,486.4L354,485.1L360.3,481.4L361.5,485.1L362.8,490.1L364,495.1L367.8,495.6L372.8,493.9L377.8,492.6L384.1,492.6L389.1,488.9L392.9,485.1L395.4,491.4L397.4,496.4L396.6,502.7L402.9,505.7L410.4,507.7L420.4,511.4L430.5,515.2L438,517.7L445.5,522.7L450.5,527.7L452.5,534L450.5,541.5L445.5,550.3L440.5,556.5L438,565.3L437.5,575.3L435.5,585.4L430.5,592.9L422.9,597.9L415.4,602.9L409.1,609.2L406.6,615.4L402.9,623L397.9,630.5L394.1,634.2L387.8,629.2L382.8,628L380.3,628L385.3,620.5L389.1,612.9L387.3,610.4L385.3,602.9L380.3,599.1L376.6,592.9L374.1,587.9L370.3,584.1L371.6,576.6L367.8,570.3L362.8,566.6L360.3,560.3L355.3,555.3L349,552.8L344,547.8L341.5,542.8L335.2,544L331.5,545.3L325.2,545.3L318.9,541.5L315.2,536.5L312.7,531.5L313.9,526.5L317.7,522.7L322.7,520.2L324.7,515.2L325.2,512.7L327.7,505.2L326.4,498.9L328.9,495.6L335.2,493.9Z"/>
<path fill="#ff0a96" stroke-width="0.5" stroke-opacity="0.65" d="M390.4,505.7L395.4,502.7L401.6,503.9L402.9,507.7L397.9,510.2L392.4,508.9Z"/>
<path fill="#0b5b8c" stroke-width="0.5" stroke-opacity="0.65" d="M380.3,628L382.8,628L387.8,629.2L394.1,634.2L395.9,639.2L392.9,644.3L387.8,646.8L382.8,646L379.1,641.8L378.3,635.5L380.3,628Z"/>
<path fill="#ffc107" stroke-width="0.5" stroke-opacity="0.65" d="M340.2,594.9L344,593.4L350.3,593.4L355.3,594.9L359,591.6L365.3,597.9L372.8,602.9L377.8,606.7L375.3,614.2L381.6,615.4L387.3,610.4L389.1,612.9L385.3,620.5L380.3,628L378.3,635.5L379.1,641.8L380.3,644.2L381.6,646.5L386.6,652.7L387.3,656.5L384.1,660.3L377.8,662.8L372.8,664L371.6,669L370.3,672.8L365.3,674L367.8,677.8L364,680.3L366.5,684.1L361.5,690.3L362.8,696.6L366.5,700.4L364,705.4L361.5,710.4L360.3,715.4L360.3,720.4L356.5,717.9L350.3,712.9L346.5,705.4L343.2,695.3L340.7,685.3L339,670.3L337.7,655.2L337.2,640.2L336.5,625.2L337.7,610.1L338.2,601.4L340.2,594.8Z"/>
<path fill="#3ff59d" stroke-width="0.5" stroke-opacity="0.65" d="M329.7,579.1L333.2,585.4L337.2,591.6L340.2,594.9L338.2,601.4L337.7,610.1L336.5,625.2L337.2,640.2L337.7,655.2L339,670.3L340.7,685.3L343.2,695.3L346.5,705.4L350.3,712.9L356.5,717.9L360.3,720.4L362.8,722.9L360.3,726.7L354,724.2L350.3,721.7L346.5,715.4L340.2,707.9L337.7,702.9L335.2,695.3L336.5,687.8L334.7,677.8L333.2,670.3L331.5,655.2L330.7,640.2L331.5,625.2L330.7,610.1L329.7,595.1L328.9,585.1Z"/>
<path fill="#3ff59d" stroke-width="0.5" stroke-opacity="0.65" d="M350.3,720.4L355.3,719.1L361.5,721.7L362.8,726.7L367.8,730.4L362.8,730.9L356.5,728.4L351.5,725.4Z"/>
<path fill="#ffc107" stroke-width="0.5" stroke-opacity="0.65" d="M361.5,721.7L365.3,722.4L370.3,725.4L375.3,727.4L371.6,729.4L366.5,728.9L362.8,726.7Z"/>
<path fill="#3ff59d" stroke-width="0.5" stroke-opacity="0.65" d="M334.2,676.5L336.2,677.3L336.7,682.3L334.7,682.8Z"/>
<path stroke="#ffb0dc" stroke-width="0.7" d="M649.1,576.5L648.4,580.3L647.9,592.8L644.9,594.1L644.1,612.9L644.1,620.4L637.9,621.6L632.9,619.9L629.8,616.6M644.1,612.9L650.4,610.4L655.4,606.6L662.9,607.8L667.9,602.8L673,597.8L678,593.3"/>
<path stroke="#dadada" stroke-width="1" d="M681.7,515.1L680.5,522.6L682.5,530.2L684.2,535.7M697.5,542.7L698.5,550.2L699.5,559.7"/>
<path stroke="#a0dcff" stroke-width="0.6" d="M765.1,400.4L766.6,404.3L769.5,406.2L770.4,409.1L768.5,410.6"/>
<path fill="#000000" d="M752,395.6L753.5,394.1L755.1,395.1L755.4,398L754,399.4L752.5,398.5Z"/>
<path stroke="#b8ffd8" stroke-width="0.6" d="M610,260.9L611.7,255L610.8,249.9L614.2,244.8L618.5,239.7L622.8,234.6L627,229.5L632.1,226.1L636.4,224.4L639.8,226.1M639.8,226.1L640.6,231.2L643.2,235.9M639.8,226.1L642.3,222.7L647.4,221.8L652.5,219.6L656.8,223.5"/>
<path stroke="#dadada" stroke-width="1" d="M265.2,436.8L260.6,437.4L259.4,442.6L259.4,446.5M260.6,437.4L261.3,432.9L264.5,432.9M259.4,442.6L265.8,444.5L267.7,448.4L264.5,449M265.8,444.5L272.3,441.3L278.7,441.3L281.3,439.4M267.7,448.4L270.3,450.3L277.4,451L278.7,451M272.3,456.8L278.7,456.8M272.3,461.3L276.1,460.6L281.3,461.3"/>
<path stroke="#dadada" stroke-width="1" d="M325.4,420.3L325.9,426.8"/>
<path stroke="#dadada" stroke-width="1" d="M360.3,475.1L357.8,480.1L360.3,481.4M370.3,480.1L369.8,487.6L372.8,493.9"/>
<path stroke="#dadada" stroke-width="1" d="M359,591.6L359,585.4L365.3,582.9L370.3,584.1"/>
<path fill="#000000" stroke="#ff9ad0" stroke-width="0.6" d="M669.4,623.4L673,621.1L676.7,623.4L676.5,627.4L673,629.1L669.4,627.4Z"/>
<path fill="#000000" stroke="#ff9ad0" stroke-width="0.6" d="M683,610.4L685.5,608.8L687.5,611.9L686.2,615.4L683.7,614.9Z"/>
<path fill="#000000" d="M690.5,503.8L694.3,501.3L698,503.8L697.5,510.1L693.5,512.6L690.5,509.6Z"/>
<path fill="#000000" d="M811.6,310.2L815.3,308.4L822.8,308.1L827.8,309.1L826.6,311.4L819.1,311.4L814.1,312.7Z"/>
<path fill="#000000" d="M767.7,310.2L769.7,308.9L771.5,310.7L769.7,312.7Z"/>
<path fill="#000000" d="M282.7,308.1L285.7,306.3L289.3,304.4L293,302.2L296.7,300.8L301.8,300.4L304,301.9L305.5,304.1L306.9,306.3L305.5,308.1L301.8,308.8L298.1,308.5L296.7,306.3L293.7,307L290.1,308.1L286.4,308.8Z"/>
<path fill="#000000" d="M301.1,312.1L303.3,312.9L299.6,315.1L296.7,318L295.2,321.7L294.5,325.3L293,328.3L290.4,329L289.3,326.8L290.4,323.1L292.3,319.5L294.5,315.8L297.4,313.2Z"/>
<path fill="#000000" d="M306.9,311.4L310.6,311L315,311.8L317.9,313.6L318.7,315.8L316.5,316.9L314.3,316.5L312.1,318.7L310.6,321.7L308.4,322.8L306.9,321.3L307.7,318L307.3,315.1Z"/>
<path fill="#000000" d="M304,328.3L306.9,326.8L311.3,325.3L315.7,324.2L317.9,324.6L316.5,326.1L312.8,327.5L308.4,329L304.7,329.7Z"/>
<path fill="#000000" d="M318.7,320.9L322.3,319.8L326.7,319.1L328.5,319.8L327.4,321.3L323.8,321.7L320.1,322Z"/>
<path fill="#000000" d="M231.8,233.9L236.8,231.4L241.9,232.7L248.1,232.2L244.4,235.7L238.1,237.2L233.1,236.4Z"/>
<path fill="#000000" d="M238.1,251.5L244.4,248.9L251.9,247.2L256.9,248.2L250.6,251.5L243.1,253.5Z"/>
<path fill="#000000" d="M272.1,283.5L275.8,283.2L277,286.5L276.9,288.7L275.4,292L273.2,293.4L272.8,290.9L274.5,288.7L273.8,286.1Z"/>
<path fill="#000000" d="M320.2,459.5L322.7,458.8L323.9,462.1L321.4,464.1L319.7,462.1Z"/>
</g></svg>
</body></html>
